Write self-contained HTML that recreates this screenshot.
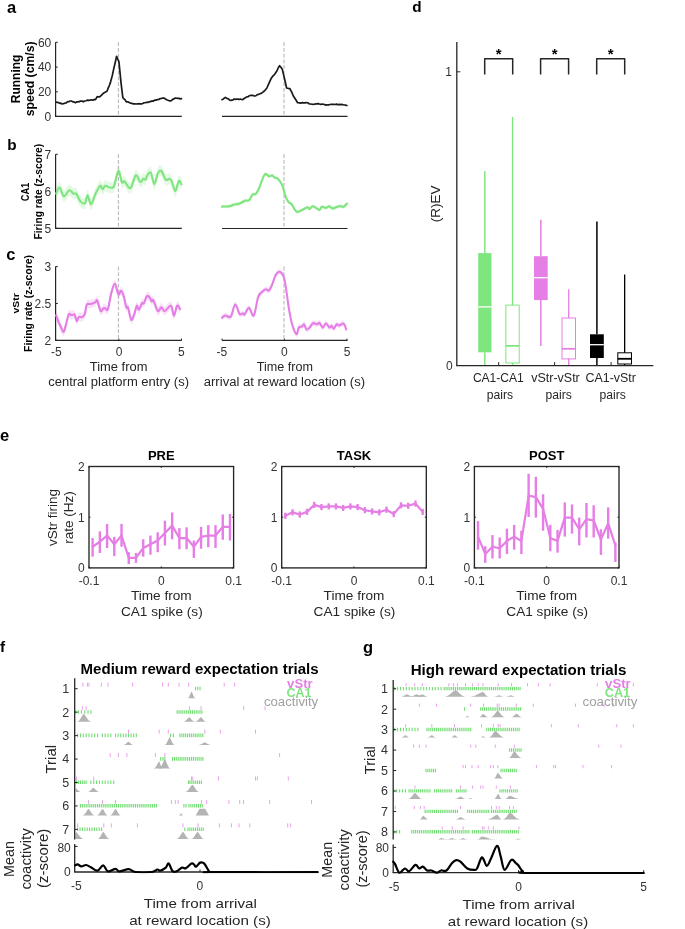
<!DOCTYPE html>
<html><head><meta charset="utf-8"><style>
html,body{margin:0;padding:0;background:#fff;}
svg{display:block;font-family:"Liberation Sans",sans-serif;will-change:transform;}
</style></head><body>
<svg width="685" height="929" viewBox="0 0 685 929">
<rect width="685" height="929" fill="#fff"/>
<text x="7.00" y="12.90" font-size="16.5" fill="#000" font-weight="bold">a</text>
<text x="7.20" y="149.50" font-size="15.3" fill="#000" font-weight="bold">b</text>
<text x="6.30" y="260.20" font-size="16.5" fill="#000" font-weight="bold">c</text>
<text x="412.30" y="11.90" font-size="15.3" fill="#000" font-weight="bold">d</text>
<text x="0.00" y="441.00" font-size="16.5" fill="#000" font-weight="bold">e</text>
<text x="0.00" y="652.00" font-size="15.3" fill="#000" font-weight="bold">f</text>
<text x="363.00" y="653.40" font-size="16.5" fill="#000" font-weight="bold">g</text>
<line x1="55.60" y1="42.30" x2="55.60" y2="116.40" stroke="#262626" stroke-width="1.2" />
<line x1="55.60" y1="116.40" x2="57.80" y2="116.40" stroke="#262626" stroke-width="1" />
<text x="51.30" y="120.70" font-size="12" fill="#333" text-anchor="end">0</text>
<line x1="55.60" y1="91.80" x2="57.80" y2="91.80" stroke="#262626" stroke-width="1" />
<text x="51.30" y="96.10" font-size="12" fill="#333" text-anchor="end">20</text>
<line x1="55.60" y1="67.10" x2="57.80" y2="67.10" stroke="#262626" stroke-width="1" />
<text x="51.30" y="71.40" font-size="12" fill="#333" text-anchor="end">40</text>
<line x1="55.60" y1="42.30" x2="57.80" y2="42.30" stroke="#262626" stroke-width="1" />
<text x="51.30" y="46.60" font-size="12" fill="#333" text-anchor="end">60</text>
<line x1="55.00" y1="116.40" x2="181.80" y2="116.40" stroke="#262626" stroke-width="1.2" />
<line x1="222.00" y1="116.40" x2="347.50" y2="116.40" stroke="#262626" stroke-width="1.2" />
<line x1="118.45" y1="42.30" x2="118.45" y2="116.20" stroke="#bdbdbd" stroke-width="1.2" stroke-dasharray="3.8,1.9"/>
<line x1="284.00" y1="42.30" x2="284.00" y2="116.50" stroke="#bdbdbd" stroke-width="1.2" stroke-dasharray="3.8,1.9"/>
<polyline points="56.10,102.20 57.32,102.38 58.54,102.57 59.76,103.36 60.98,103.18 62.20,103.90 63.47,103.63 64.73,103.18 66.00,103.00 67.37,101.94 68.73,101.67 70.10,101.00 71.40,101.01 72.70,101.79 74.00,101.89 75.30,102.70 76.62,101.91 77.95,101.78 79.27,101.72 80.60,101.00 81.90,101.06 83.20,101.80 84.67,100.98 86.13,100.78 87.60,100.10 88.92,100.44 90.23,100.04 91.55,99.81 92.87,100.26 94.18,99.36 95.50,99.70 97.20,96.60 98.60,96.92 100.00,96.60 101.28,95.31 102.55,94.08 103.82,92.96 105.10,92.20 107.00,91.30 108.13,88.23 109.27,85.78 110.40,82.60 112.30,75.50 113.73,68.81 115.17,62.77 116.60,56.30 117.75,59.03 118.90,61.50 119.95,71.94 121.00,82.60 122.80,97.40 123.97,98.91 125.13,99.94 126.30,101.80 127.70,101.82 129.10,102.38 130.50,103.22 131.90,103.41 133.30,103.90 134.70,103.73 136.10,103.98 137.50,103.86 138.90,103.72 140.30,103.90 141.54,103.86 142.79,103.48 144.03,102.77 145.27,102.77 146.51,102.42 147.76,102.44 149.00,101.80 150.40,101.67 151.80,100.93 153.20,101.21 154.60,100.10 156.00,100.10 157.40,99.61 158.80,99.49 160.20,98.53 161.60,98.41 163.00,98.00 164.40,98.19 165.80,99.35 167.20,100.04 168.60,100.47 170.00,101.00 171.32,100.59 172.65,99.33 173.98,98.93 175.30,98.00 176.54,98.22 177.78,98.35 179.02,98.38 180.26,98.87 181.50,98.70" fill="none" stroke="#1a1a1a" stroke-width="1.7" stroke-linejoin="round" stroke-linecap="round" />
<polyline points="222.00,99.60 223.10,99.27 224.20,98.11 225.30,97.40 226.68,98.32 228.05,98.55 229.43,99.91 230.80,100.50 231.90,100.13 233.00,99.94 234.10,99.00 235.34,99.38 236.59,98.98 237.83,99.15 239.07,99.49 240.31,99.00 241.56,99.48 242.80,99.60 244.12,98.52 245.44,97.70 246.76,96.86 248.08,96.72 249.40,95.70 250.72,95.37 252.04,95.47 253.36,95.60 254.68,96.03 256.00,95.70 257.32,94.66 258.64,94.33 259.96,93.76 261.28,93.41 262.60,92.40 264.03,91.22 265.47,89.79 266.90,88.00 268.37,84.53 269.83,81.39 271.30,78.20 272.77,76.24 274.23,74.88 275.70,72.70 277.00,70.78 278.30,67.72 279.60,65.70 280.95,67.26 282.30,69.40 283.73,75.36 285.17,81.56 286.60,88.00 287.70,88.22 288.80,88.55 289.90,88.70 291.00,90.82 292.10,92.92 293.20,95.70 294.67,97.96 296.13,100.25 297.60,102.70 298.84,102.76 300.09,103.11 301.33,102.87 302.57,102.71 303.81,102.81 305.06,102.86 306.30,102.70 307.77,102.73 309.23,103.93 310.70,104.00 311.96,104.25 313.21,104.34 314.47,104.27 315.73,103.90 316.99,103.91 318.24,103.64 319.50,104.00 320.80,104.34 322.10,104.05 323.40,104.27 324.70,104.62 326.00,105.10 327.32,104.73 328.64,104.82 329.96,104.49 331.28,104.37 332.60,104.44 333.92,104.32 335.24,104.49 336.56,104.11 337.88,104.81 339.20,104.40 340.48,104.69 341.77,104.45 343.05,104.73 344.33,105.00 345.62,105.19 346.90,105.50" fill="none" stroke="#1a1a1a" stroke-width="1.7" stroke-linejoin="round" stroke-linecap="round" />
<text x="20.00" y="78.90" font-size="12" fill="#000" font-weight="bold" text-anchor="middle" transform="rotate(-90 20.00 78.90)">Running</text>
<text x="34.50" y="78.80" font-size="12" fill="#000" font-weight="bold" text-anchor="middle" textLength="74.80" lengthAdjust="spacingAndGlyphs" transform="rotate(-90 34.50 78.80)">speed (cm/s)</text>
<line x1="55.60" y1="154.30" x2="55.60" y2="228.30" stroke="#262626" stroke-width="1.2" />
<line x1="55.60" y1="228.30" x2="57.80" y2="228.30" stroke="#262626" stroke-width="1" />
<text x="51.30" y="232.60" font-size="12" fill="#333" text-anchor="end">5</text>
<line x1="55.60" y1="191.30" x2="57.80" y2="191.30" stroke="#262626" stroke-width="1" />
<text x="51.30" y="195.60" font-size="12" fill="#333" text-anchor="end">6</text>
<line x1="55.60" y1="154.30" x2="57.80" y2="154.30" stroke="#262626" stroke-width="1" />
<text x="51.30" y="158.60" font-size="12" fill="#333" text-anchor="end">7</text>
<line x1="55.00" y1="228.30" x2="181.80" y2="228.30" stroke="#262626" stroke-width="1.2" />
<line x1="222.00" y1="228.50" x2="347.50" y2="228.50" stroke="#262626" stroke-width="1.2" />
<line x1="118.45" y1="154.30" x2="118.45" y2="228.40" stroke="#bdbdbd" stroke-width="1.2" stroke-dasharray="3.8,1.9"/>
<line x1="284.00" y1="154.30" x2="284.00" y2="228.60" stroke="#bdbdbd" stroke-width="1.2" stroke-dasharray="3.8,1.9"/>
<path d="M56.10,188.20 C56.68,187.18 58.30,181.67 59.60,182.10 C60.90,182.53 62.30,190.37 63.90,190.80 C65.50,191.23 67.58,185.13 69.20,184.70 C70.82,184.27 72.43,187.62 73.60,188.20 C74.77,188.78 75.03,186.88 76.20,188.20 C77.37,189.52 79.13,194.50 80.60,196.10 C82.07,197.70 83.83,198.83 85.00,197.80 C86.17,196.77 86.58,189.75 87.60,189.90 C88.62,190.05 89.78,198.98 91.10,198.70 C92.42,198.42 93.98,191.27 95.50,188.20 C97.02,185.13 99.02,181.03 100.20,180.30 C101.38,179.57 101.78,183.80 102.60,183.80 C103.42,183.80 104.25,180.73 105.10,180.30 C105.95,179.87 106.82,180.90 107.70,181.20 C108.58,181.50 109.35,182.18 110.40,182.10 C111.45,182.02 112.67,183.48 114.00,180.70 C115.33,177.92 117.08,166.05 118.40,165.40 C119.72,164.75 120.88,175.05 121.90,176.80 C122.92,178.55 123.33,175.02 124.50,175.90 C125.67,176.78 127.73,181.22 128.90,182.10 C130.07,182.98 130.33,183.25 131.50,181.20 C132.67,179.15 134.43,170.58 135.90,169.80 C137.37,169.02 139.05,175.92 140.30,176.50 C141.55,177.08 142.53,173.68 143.40,173.30 C144.27,172.92 144.85,174.78 145.50,174.20 C146.15,173.62 146.42,170.97 147.30,169.80 C148.18,168.63 149.63,165.73 150.80,167.20 C151.97,168.67 153.13,178.47 154.30,178.60 C155.47,178.73 156.63,170.20 157.80,168.00 C158.97,165.80 159.98,164.37 161.30,165.40 C162.62,166.43 164.38,172.88 165.70,174.20 C167.02,175.52 168.18,173.02 169.20,173.30 C170.22,173.58 170.78,173.85 171.80,175.90 C172.82,177.95 174.13,185.68 175.30,185.60 C176.47,185.52 177.77,176.52 178.80,175.40 C179.83,174.28 181.05,178.32 181.50,178.90 L181.50,189.90 C181.05,189.32 179.83,185.28 178.80,186.40 C177.77,187.52 176.47,196.52 175.30,196.60 C174.13,196.68 172.82,188.95 171.80,186.90 C170.78,184.85 170.22,184.58 169.20,184.30 C168.18,184.02 167.02,186.52 165.70,185.20 C164.38,183.88 162.62,177.43 161.30,176.40 C159.98,175.37 158.97,176.80 157.80,179.00 C156.63,181.20 155.47,189.73 154.30,189.60 C153.13,189.47 151.97,179.67 150.80,178.20 C149.63,176.73 148.18,179.63 147.30,180.80 C146.42,181.97 146.15,184.62 145.50,185.20 C144.85,185.78 144.27,183.92 143.40,184.30 C142.53,184.68 141.55,188.08 140.30,187.50 C139.05,186.92 137.37,180.02 135.90,180.80 C134.43,181.58 132.67,190.15 131.50,192.20 C130.33,194.25 130.07,193.98 128.90,193.10 C127.73,192.22 125.67,187.78 124.50,186.90 C123.33,186.02 122.92,189.55 121.90,187.80 C120.88,186.05 119.72,175.75 118.40,176.40 C117.08,177.05 115.33,188.92 114.00,191.70 C112.67,194.48 111.45,193.02 110.40,193.10 C109.35,193.18 108.58,192.50 107.70,192.20 C106.82,191.90 105.95,190.87 105.10,191.30 C104.25,191.73 103.42,194.80 102.60,194.80 C101.78,194.80 101.38,190.57 100.20,191.30 C99.02,192.03 97.02,196.13 95.50,199.20 C93.98,202.27 92.42,209.42 91.10,209.70 C89.78,209.98 88.62,201.05 87.60,200.90 C86.58,200.75 86.17,207.77 85.00,208.80 C83.83,209.83 82.07,208.70 80.60,207.10 C79.13,205.50 77.37,200.52 76.20,199.20 C75.03,197.88 74.77,199.78 73.60,199.20 C72.43,198.62 70.82,195.27 69.20,195.70 C67.58,196.13 65.50,202.23 63.90,201.80 C62.30,201.37 60.90,193.53 59.60,193.10 C58.30,192.67 56.68,198.18 56.10,199.20 Z" fill="#7fe57f" fill-opacity="0.22" stroke="none"/>
<path d="M56.10,193.70 C56.68,192.68 58.30,187.17 59.60,187.60 C60.90,188.03 62.30,195.87 63.90,196.30 C65.50,196.73 67.58,190.63 69.20,190.20 C70.82,189.77 72.43,193.12 73.60,193.70 C74.77,194.28 75.03,192.38 76.20,193.70 C77.37,195.02 79.13,200.00 80.60,201.60 C82.07,203.20 83.83,204.33 85.00,203.30 C86.17,202.27 86.58,195.25 87.60,195.40 C88.62,195.55 89.78,204.48 91.10,204.20 C92.42,203.92 93.98,196.77 95.50,193.70 C97.02,190.63 99.02,186.53 100.20,185.80 C101.38,185.07 101.78,189.30 102.60,189.30 C103.42,189.30 104.25,186.23 105.10,185.80 C105.95,185.37 106.82,186.40 107.70,186.70 C108.58,187.00 109.35,187.68 110.40,187.60 C111.45,187.52 112.67,188.98 114.00,186.20 C115.33,183.42 117.08,171.55 118.40,170.90 C119.72,170.25 120.88,180.55 121.90,182.30 C122.92,184.05 123.33,180.52 124.50,181.40 C125.67,182.28 127.73,186.72 128.90,187.60 C130.07,188.48 130.33,188.75 131.50,186.70 C132.67,184.65 134.43,176.08 135.90,175.30 C137.37,174.52 139.05,181.42 140.30,182.00 C141.55,182.58 142.53,179.18 143.40,178.80 C144.27,178.42 144.85,180.28 145.50,179.70 C146.15,179.12 146.42,176.47 147.30,175.30 C148.18,174.13 149.63,171.23 150.80,172.70 C151.97,174.17 153.13,183.97 154.30,184.10 C155.47,184.23 156.63,175.70 157.80,173.50 C158.97,171.30 159.98,169.87 161.30,170.90 C162.62,171.93 164.38,178.38 165.70,179.70 C167.02,181.02 168.18,178.52 169.20,178.80 C170.22,179.08 170.78,179.35 171.80,181.40 C172.82,183.45 174.13,191.18 175.30,191.10 C176.47,191.02 177.77,182.02 178.80,180.90 C179.83,179.78 181.05,183.82 181.50,184.40" fill="none" stroke="#7fe57f" stroke-width="2.1" stroke-linejoin="round" stroke-linecap="round" />
<path d="M222.00,204.80 C223.28,204.73 227.68,204.73 229.70,204.40 C231.72,204.07 232.45,203.25 234.10,202.80 C235.75,202.35 237.78,202.35 239.60,201.70 C241.42,201.05 243.43,199.43 245.00,198.90 C246.57,198.37 247.72,199.52 249.00,198.50 C250.28,197.48 251.53,193.90 252.70,192.80 C253.87,191.70 254.90,193.07 256.00,191.90 C257.10,190.73 258.20,188.28 259.30,185.80 C260.40,183.32 261.62,179.27 262.60,177.00 C263.58,174.73 264.12,172.63 265.20,172.20 C266.28,171.77 267.90,174.15 269.10,174.40 C270.30,174.65 271.48,173.45 272.40,173.70 C273.32,173.95 273.68,175.35 274.60,175.90 C275.52,176.45 276.62,175.72 277.90,177.00 C279.18,178.28 281.03,180.68 282.30,183.60 C283.57,186.52 284.42,191.67 285.50,194.50 C286.58,197.33 287.80,199.32 288.80,200.60 C289.80,201.88 290.22,200.67 291.50,202.20 C292.78,203.73 294.75,208.78 296.50,209.80 C298.25,210.82 300.18,209.02 302.00,208.30 C303.82,207.58 306.13,205.68 307.40,205.50 C308.67,205.32 308.68,207.38 309.60,207.20 C310.52,207.02 311.25,204.25 312.90,204.40 C314.55,204.55 318.03,208.00 319.50,208.10 C320.97,208.20 320.62,205.33 321.70,205.00 C322.78,204.67 324.73,206.20 326.00,206.10 C327.27,206.00 328.20,204.32 329.30,204.40 C330.40,204.48 330.95,206.60 332.60,206.60 C334.25,206.60 337.37,204.67 339.20,204.40 C341.03,204.13 342.32,205.45 343.60,205.00 C344.88,204.55 346.35,202.25 346.90,201.70 L346.90,205.30 C346.35,205.85 344.88,208.15 343.60,208.60 C342.32,209.05 341.03,207.73 339.20,208.00 C337.37,208.27 334.25,210.20 332.60,210.20 C330.95,210.20 330.40,208.08 329.30,208.00 C328.20,207.92 327.27,209.60 326.00,209.70 C324.73,209.80 322.78,208.27 321.70,208.60 C320.62,208.93 320.97,211.80 319.50,211.70 C318.03,211.60 314.55,208.15 312.90,208.00 C311.25,207.85 310.52,210.62 309.60,210.80 C308.68,210.98 308.67,208.92 307.40,209.10 C306.13,209.28 303.82,211.18 302.00,211.90 C300.18,212.62 298.25,214.42 296.50,213.40 C294.75,212.38 292.78,207.33 291.50,205.80 C290.22,204.27 289.80,205.48 288.80,204.20 C287.80,202.92 286.58,200.93 285.50,198.10 C284.42,195.27 283.57,190.12 282.30,187.20 C281.03,184.28 279.18,181.88 277.90,180.60 C276.62,179.32 275.52,180.05 274.60,179.50 C273.68,178.95 273.32,177.55 272.40,177.30 C271.48,177.05 270.30,178.25 269.10,178.00 C267.90,177.75 266.28,175.37 265.20,175.80 C264.12,176.23 263.58,178.33 262.60,180.60 C261.62,182.87 260.40,186.92 259.30,189.40 C258.20,191.88 257.10,194.33 256.00,195.50 C254.90,196.67 253.87,195.30 252.70,196.40 C251.53,197.50 250.28,201.08 249.00,202.10 C247.72,203.12 246.57,201.97 245.00,202.50 C243.43,203.03 241.42,204.65 239.60,205.30 C237.78,205.95 235.75,205.95 234.10,206.40 C232.45,206.85 231.72,207.67 229.70,208.00 C227.68,208.33 223.28,208.33 222.00,208.40 Z" fill="#7fe57f" fill-opacity="0.25" stroke="none"/>
<path d="M222.00,206.60 C223.28,206.53 227.68,206.53 229.70,206.20 C231.72,205.87 232.45,205.05 234.10,204.60 C235.75,204.15 237.78,204.15 239.60,203.50 C241.42,202.85 243.43,201.23 245.00,200.70 C246.57,200.17 247.72,201.32 249.00,200.30 C250.28,199.28 251.53,195.70 252.70,194.60 C253.87,193.50 254.90,194.87 256.00,193.70 C257.10,192.53 258.20,190.08 259.30,187.60 C260.40,185.12 261.62,181.07 262.60,178.80 C263.58,176.53 264.12,174.43 265.20,174.00 C266.28,173.57 267.90,175.95 269.10,176.20 C270.30,176.45 271.48,175.25 272.40,175.50 C273.32,175.75 273.68,177.15 274.60,177.70 C275.52,178.25 276.62,177.52 277.90,178.80 C279.18,180.08 281.03,182.48 282.30,185.40 C283.57,188.32 284.42,193.47 285.50,196.30 C286.58,199.13 287.80,201.12 288.80,202.40 C289.80,203.68 290.22,202.47 291.50,204.00 C292.78,205.53 294.75,210.58 296.50,211.60 C298.25,212.62 300.18,210.82 302.00,210.10 C303.82,209.38 306.13,207.48 307.40,207.30 C308.67,207.12 308.68,209.18 309.60,209.00 C310.52,208.82 311.25,206.05 312.90,206.20 C314.55,206.35 318.03,209.80 319.50,209.90 C320.97,210.00 320.62,207.13 321.70,206.80 C322.78,206.47 324.73,208.00 326.00,207.90 C327.27,207.80 328.20,206.12 329.30,206.20 C330.40,206.28 330.95,208.40 332.60,208.40 C334.25,208.40 337.37,206.47 339.20,206.20 C341.03,205.93 342.32,207.25 343.60,206.80 C344.88,206.35 346.35,204.05 346.90,203.50" fill="none" stroke="#7fe57f" stroke-width="2.1" stroke-linejoin="round" stroke-linecap="round" />
<text x="28.60" y="192.00" font-size="10.5" fill="#000" font-weight="bold" text-anchor="middle" textLength="18.50" lengthAdjust="spacingAndGlyphs" transform="rotate(-90 28.60 192.00)">CA1</text>
<text x="41.60" y="191.70" font-size="10.5" fill="#000" font-weight="bold" text-anchor="middle" textLength="95.60" lengthAdjust="spacingAndGlyphs" transform="rotate(-90 41.60 191.70)">Firing rate (z-score)</text>
<line x1="55.60" y1="266.60" x2="55.60" y2="340.40" stroke="#262626" stroke-width="1.2" />
<line x1="55.60" y1="340.40" x2="57.80" y2="340.40" stroke="#262626" stroke-width="1" />
<text x="51.30" y="344.70" font-size="12" fill="#333" text-anchor="end">2</text>
<line x1="55.60" y1="303.50" x2="57.80" y2="303.50" stroke="#262626" stroke-width="1" />
<text x="51.30" y="307.80" font-size="12" fill="#333" text-anchor="end">2.5</text>
<line x1="55.60" y1="266.60" x2="57.80" y2="266.60" stroke="#262626" stroke-width="1" />
<text x="51.30" y="270.90" font-size="12" fill="#333" text-anchor="end">3</text>
<line x1="55.00" y1="340.40" x2="181.80" y2="340.40" stroke="#262626" stroke-width="1.2" />
<line x1="222.00" y1="340.40" x2="347.50" y2="340.40" stroke="#262626" stroke-width="1.2" />
<line x1="55.60" y1="340.30" x2="55.60" y2="338.60" stroke="#262626" stroke-width="1" />
<line x1="118.80" y1="340.30" x2="118.80" y2="338.60" stroke="#262626" stroke-width="1" />
<line x1="181.50" y1="340.30" x2="181.50" y2="338.60" stroke="#262626" stroke-width="1" />
<line x1="222.00" y1="340.30" x2="222.00" y2="338.60" stroke="#262626" stroke-width="1" />
<line x1="284.40" y1="340.30" x2="284.40" y2="338.60" stroke="#262626" stroke-width="1" />
<line x1="347.00" y1="340.30" x2="347.00" y2="338.60" stroke="#262626" stroke-width="1" />
<line x1="118.45" y1="266.60" x2="118.45" y2="340.30" stroke="#bdbdbd" stroke-width="1.2" stroke-dasharray="3.8,1.9"/>
<line x1="284.00" y1="266.60" x2="284.00" y2="340.30" stroke="#bdbdbd" stroke-width="1.2" stroke-dasharray="3.8,1.9"/>
<path d="M56.10,311.00 C56.53,312.17 57.98,316.25 58.70,318.00 C59.42,319.75 59.62,319.88 60.40,321.50 C61.18,323.12 62.52,327.70 63.40,327.70 C64.28,327.70 64.82,324.42 65.70,321.50 C66.58,318.58 67.68,311.95 68.70,310.20 C69.72,308.45 70.83,311.00 71.80,311.00 C72.77,311.00 73.68,309.27 74.50,310.20 C75.32,311.13 75.98,316.17 76.70,316.60 C77.42,317.03 77.87,313.43 78.80,312.80 C79.73,312.17 81.27,313.38 82.30,312.80 C83.33,312.22 84.27,311.35 85.00,309.30 C85.73,307.25 85.68,302.12 86.70,300.50 C87.72,298.88 89.63,300.03 91.10,299.60 C92.57,299.17 94.48,298.48 95.50,297.90 C96.52,297.32 96.33,294.63 97.20,296.10 C98.07,297.57 99.67,305.38 100.70,306.70 C101.73,308.02 102.63,304.45 103.40,304.00 C104.17,303.55 104.55,303.85 105.30,304.00 C106.05,304.15 106.88,307.52 107.90,304.90 C108.92,302.28 110.23,292.53 111.40,288.30 C112.57,284.07 113.73,279.22 114.90,279.50 C116.07,279.78 117.38,288.83 118.40,290.00 C119.42,291.17 120.12,286.20 121.00,286.50 C121.88,286.80 122.82,289.03 123.70,291.80 C124.58,294.57 125.58,301.22 126.30,303.10 C127.02,304.98 127.18,301.05 128.00,303.10 C128.82,305.15 130.17,314.22 131.20,315.40 C132.23,316.58 133.27,312.53 134.20,310.20 C135.13,307.87 136.02,302.20 136.80,301.40 C137.58,300.60 138.03,305.83 138.90,305.40 C139.77,304.97 141.18,299.85 142.00,298.80 C142.82,297.75 142.97,300.27 143.80,299.10 C144.63,297.93 145.98,292.73 147.00,291.80 C148.02,290.87 149.12,292.63 149.90,293.50 C150.68,294.37 151.12,296.57 151.70,297.00 C152.28,297.43 152.38,294.48 153.40,296.10 C154.42,297.72 156.48,305.53 157.80,306.70 C159.12,307.87 160.13,303.10 161.30,303.10 C162.47,303.10 163.18,306.98 164.80,306.70 C166.42,306.42 169.48,300.62 171.00,301.40 C172.52,302.18 172.88,311.40 173.90,311.40 C174.92,311.40 176.05,302.48 177.10,301.40 C178.15,300.32 179.68,304.32 180.20,304.90 L180.20,313.50 C179.68,312.92 178.15,308.92 177.10,310.00 C176.05,311.08 174.92,320.00 173.90,320.00 C172.88,320.00 172.52,310.78 171.00,310.00 C169.48,309.22 166.42,315.02 164.80,315.30 C163.18,315.58 162.47,311.70 161.30,311.70 C160.13,311.70 159.12,316.47 157.80,315.30 C156.48,314.13 154.42,306.32 153.40,304.70 C152.38,303.08 152.28,306.03 151.70,305.60 C151.12,305.17 150.68,302.97 149.90,302.10 C149.12,301.23 148.02,299.47 147.00,300.40 C145.98,301.33 144.63,306.53 143.80,307.70 C142.97,308.87 142.82,306.35 142.00,307.40 C141.18,308.45 139.77,313.57 138.90,314.00 C138.03,314.43 137.58,309.20 136.80,310.00 C136.02,310.80 135.13,316.47 134.20,318.80 C133.27,321.13 132.23,325.18 131.20,324.00 C130.17,322.82 128.82,313.75 128.00,311.70 C127.18,309.65 127.02,313.58 126.30,311.70 C125.58,309.82 124.58,303.17 123.70,300.40 C122.82,297.63 121.88,295.40 121.00,295.10 C120.12,294.80 119.42,299.77 118.40,298.60 C117.38,297.43 116.07,288.38 114.90,288.10 C113.73,287.82 112.57,292.67 111.40,296.90 C110.23,301.13 108.92,310.88 107.90,313.50 C106.88,316.12 106.05,312.75 105.30,312.60 C104.55,312.45 104.17,312.15 103.40,312.60 C102.63,313.05 101.73,316.62 100.70,315.30 C99.67,313.98 98.07,306.17 97.20,304.70 C96.33,303.23 96.52,305.92 95.50,306.50 C94.48,307.08 92.57,307.77 91.10,308.20 C89.63,308.63 87.72,307.48 86.70,309.10 C85.68,310.72 85.73,315.85 85.00,317.90 C84.27,319.95 83.33,320.82 82.30,321.40 C81.27,321.98 79.73,320.77 78.80,321.40 C77.87,322.03 77.42,325.63 76.70,325.20 C75.98,324.77 75.32,319.73 74.50,318.80 C73.68,317.87 72.77,319.60 71.80,319.60 C70.83,319.60 69.72,317.05 68.70,318.80 C67.68,320.55 66.58,327.18 65.70,330.10 C64.82,333.02 64.28,336.30 63.40,336.30 C62.52,336.30 61.18,331.72 60.40,330.10 C59.62,328.48 59.42,328.35 58.70,326.60 C57.98,324.85 56.53,320.77 56.10,319.60 Z" fill="#e57ee5" fill-opacity="0.22" stroke="none"/>
<path d="M56.10,315.30 C56.53,316.47 57.98,320.55 58.70,322.30 C59.42,324.05 59.62,324.18 60.40,325.80 C61.18,327.42 62.52,332.00 63.40,332.00 C64.28,332.00 64.82,328.72 65.70,325.80 C66.58,322.88 67.68,316.25 68.70,314.50 C69.72,312.75 70.83,315.30 71.80,315.30 C72.77,315.30 73.68,313.57 74.50,314.50 C75.32,315.43 75.98,320.47 76.70,320.90 C77.42,321.33 77.87,317.73 78.80,317.10 C79.73,316.47 81.27,317.68 82.30,317.10 C83.33,316.52 84.27,315.65 85.00,313.60 C85.73,311.55 85.68,306.42 86.70,304.80 C87.72,303.18 89.63,304.33 91.10,303.90 C92.57,303.47 94.48,302.78 95.50,302.20 C96.52,301.62 96.33,298.93 97.20,300.40 C98.07,301.87 99.67,309.68 100.70,311.00 C101.73,312.32 102.63,308.75 103.40,308.30 C104.17,307.85 104.55,308.15 105.30,308.30 C106.05,308.45 106.88,311.82 107.90,309.20 C108.92,306.58 110.23,296.83 111.40,292.60 C112.57,288.37 113.73,283.52 114.90,283.80 C116.07,284.08 117.38,293.13 118.40,294.30 C119.42,295.47 120.12,290.50 121.00,290.80 C121.88,291.10 122.82,293.33 123.70,296.10 C124.58,298.87 125.58,305.52 126.30,307.40 C127.02,309.28 127.18,305.35 128.00,307.40 C128.82,309.45 130.17,318.52 131.20,319.70 C132.23,320.88 133.27,316.83 134.20,314.50 C135.13,312.17 136.02,306.50 136.80,305.70 C137.58,304.90 138.03,310.13 138.90,309.70 C139.77,309.27 141.18,304.15 142.00,303.10 C142.82,302.05 142.97,304.57 143.80,303.40 C144.63,302.23 145.98,297.03 147.00,296.10 C148.02,295.17 149.12,296.93 149.90,297.80 C150.68,298.67 151.12,300.87 151.70,301.30 C152.28,301.73 152.38,298.78 153.40,300.40 C154.42,302.02 156.48,309.83 157.80,311.00 C159.12,312.17 160.13,307.40 161.30,307.40 C162.47,307.40 163.18,311.28 164.80,311.00 C166.42,310.72 169.48,304.92 171.00,305.70 C172.52,306.48 172.88,315.70 173.90,315.70 C174.92,315.70 176.05,306.78 177.10,305.70 C178.15,304.62 179.68,308.62 180.20,309.20" fill="none" stroke="#e57ee5" stroke-width="2.1" stroke-linejoin="round" stroke-linecap="round" />
<path d="M222.00,314.90 C222.55,314.53 223.83,312.88 225.30,312.70 C226.77,312.52 229.15,315.62 230.80,313.80 C232.45,311.98 233.73,302.23 235.20,301.80 C236.67,301.37 238.33,309.73 239.60,311.20 C240.87,312.67 241.97,310.53 242.80,310.60 C243.63,310.67 243.57,312.52 244.60,311.60 C245.63,310.68 247.47,304.92 249.00,305.10 C250.53,305.28 252.27,314.53 253.80,312.70 C255.33,310.87 256.73,298.10 258.20,294.10 C259.67,290.10 261.33,289.97 262.60,288.70 C263.87,287.43 264.72,286.68 265.80,286.50 C266.88,286.32 268.00,288.52 269.10,287.60 C270.20,286.68 271.30,283.57 272.40,281.00 C273.50,278.43 274.50,274.22 275.70,272.20 C276.90,270.18 278.32,268.72 279.60,268.90 C280.88,269.08 282.42,271.10 283.40,273.30 C284.38,275.50 284.60,276.80 285.50,282.10 C286.40,287.40 287.70,298.53 288.80,305.10 C289.90,311.67 290.82,317.12 292.10,321.50 C293.38,325.88 295.40,330.85 296.50,331.40 C297.60,331.95 297.78,326.08 298.70,324.80 C299.62,323.52 301.08,324.25 302.00,323.70 C302.92,323.15 303.48,321.03 304.20,321.50 C304.92,321.97 305.40,325.95 306.30,326.50 C307.20,327.05 308.50,325.82 309.60,324.80 C310.70,323.78 311.62,320.95 312.90,320.40 C314.18,319.85 316.20,321.57 317.30,321.50 C318.40,321.43 318.58,319.45 319.50,320.00 C320.42,320.55 321.72,324.73 322.80,324.80 C323.88,324.87 324.92,320.40 326.00,320.40 C327.08,320.40 328.38,324.37 329.30,324.80 C330.22,325.23 330.77,322.82 331.50,323.00 C332.23,323.18 332.85,326.15 333.70,325.90 C334.55,325.65 335.68,322.05 336.60,321.50 C337.52,320.95 338.03,322.72 339.20,322.60 C340.37,322.48 342.43,320.15 343.60,320.80 C344.77,321.45 345.77,325.55 346.20,326.50 L346.20,332.10 C345.77,331.15 344.77,327.05 343.60,326.40 C342.43,325.75 340.37,328.08 339.20,328.20 C338.03,328.32 337.52,326.55 336.60,327.10 C335.68,327.65 334.55,331.25 333.70,331.50 C332.85,331.75 332.23,328.78 331.50,328.60 C330.77,328.42 330.22,330.83 329.30,330.40 C328.38,329.97 327.08,326.00 326.00,326.00 C324.92,326.00 323.88,330.47 322.80,330.40 C321.72,330.33 320.42,326.15 319.50,325.60 C318.58,325.05 318.40,327.03 317.30,327.10 C316.20,327.17 314.18,325.45 312.90,326.00 C311.62,326.55 310.70,329.38 309.60,330.40 C308.50,331.42 307.20,332.65 306.30,332.10 C305.40,331.55 304.92,327.57 304.20,327.10 C303.48,326.63 302.92,328.75 302.00,329.30 C301.08,329.85 299.62,329.12 298.70,330.40 C297.78,331.68 297.60,337.55 296.50,337.00 C295.40,336.45 293.38,331.48 292.10,327.10 C290.82,322.72 289.90,317.27 288.80,310.70 C287.70,304.13 286.40,293.00 285.50,287.70 C284.60,282.40 284.38,281.10 283.40,278.90 C282.42,276.70 280.88,274.68 279.60,274.50 C278.32,274.32 276.90,275.78 275.70,277.80 C274.50,279.82 273.50,284.03 272.40,286.60 C271.30,289.17 270.20,292.28 269.10,293.20 C268.00,294.12 266.88,291.92 265.80,292.10 C264.72,292.28 263.87,293.03 262.60,294.30 C261.33,295.57 259.67,295.70 258.20,299.70 C256.73,303.70 255.33,316.47 253.80,318.30 C252.27,320.13 250.53,310.88 249.00,310.70 C247.47,310.52 245.63,316.28 244.60,317.20 C243.57,318.12 243.63,316.27 242.80,316.20 C241.97,316.13 240.87,318.27 239.60,316.80 C238.33,315.33 236.67,306.97 235.20,307.40 C233.73,307.83 232.45,317.58 230.80,319.40 C229.15,321.22 226.77,318.12 225.30,318.30 C223.83,318.48 222.55,320.13 222.00,320.50 Z" fill="#e57ee5" fill-opacity="0.22" stroke="none"/>
<path d="M222.00,317.70 C222.55,317.33 223.83,315.68 225.30,315.50 C226.77,315.32 229.15,318.42 230.80,316.60 C232.45,314.78 233.73,305.03 235.20,304.60 C236.67,304.17 238.33,312.53 239.60,314.00 C240.87,315.47 241.97,313.33 242.80,313.40 C243.63,313.47 243.57,315.32 244.60,314.40 C245.63,313.48 247.47,307.72 249.00,307.90 C250.53,308.08 252.27,317.33 253.80,315.50 C255.33,313.67 256.73,300.90 258.20,296.90 C259.67,292.90 261.33,292.77 262.60,291.50 C263.87,290.23 264.72,289.48 265.80,289.30 C266.88,289.12 268.00,291.32 269.10,290.40 C270.20,289.48 271.30,286.37 272.40,283.80 C273.50,281.23 274.50,277.02 275.70,275.00 C276.90,272.98 278.32,271.52 279.60,271.70 C280.88,271.88 282.42,273.90 283.40,276.10 C284.38,278.30 284.60,279.60 285.50,284.90 C286.40,290.20 287.70,301.33 288.80,307.90 C289.90,314.47 290.82,319.92 292.10,324.30 C293.38,328.68 295.40,333.65 296.50,334.20 C297.60,334.75 297.78,328.88 298.70,327.60 C299.62,326.32 301.08,327.05 302.00,326.50 C302.92,325.95 303.48,323.83 304.20,324.30 C304.92,324.77 305.40,328.75 306.30,329.30 C307.20,329.85 308.50,328.62 309.60,327.60 C310.70,326.58 311.62,323.75 312.90,323.20 C314.18,322.65 316.20,324.37 317.30,324.30 C318.40,324.23 318.58,322.25 319.50,322.80 C320.42,323.35 321.72,327.53 322.80,327.60 C323.88,327.67 324.92,323.20 326.00,323.20 C327.08,323.20 328.38,327.17 329.30,327.60 C330.22,328.03 330.77,325.62 331.50,325.80 C332.23,325.98 332.85,328.95 333.70,328.70 C334.55,328.45 335.68,324.85 336.60,324.30 C337.52,323.75 338.03,325.52 339.20,325.40 C340.37,325.28 342.43,322.95 343.60,323.60 C344.77,324.25 345.77,328.35 346.20,329.30" fill="none" stroke="#e57ee5" stroke-width="2.1" stroke-linejoin="round" stroke-linecap="round" />
<text x="18.90" y="303.30" font-size="9.6" fill="#000" font-weight="bold" text-anchor="middle" textLength="20.20" lengthAdjust="spacingAndGlyphs" transform="rotate(-90 18.90 303.30)">vStr</text>
<text x="31.80" y="303.50" font-size="10.5" fill="#000" font-weight="bold" text-anchor="middle" textLength="96.80" lengthAdjust="spacingAndGlyphs" transform="rotate(-90 31.80 303.50)">Firing rate (z-score)</text>
<text x="56.30" y="356.00" font-size="12" fill="#333" text-anchor="middle">-5</text>
<text x="119.00" y="356.00" font-size="12" fill="#333" text-anchor="middle">0</text>
<text x="181.30" y="356.00" font-size="12" fill="#333" text-anchor="middle">5</text>
<text x="221.80" y="356.00" font-size="12" fill="#333" text-anchor="middle">-5</text>
<text x="284.40" y="356.00" font-size="12" fill="#333" text-anchor="middle">0</text>
<text x="347.00" y="356.00" font-size="12" fill="#333" text-anchor="middle">5</text>
<text x="118.60" y="370.70" font-size="12" fill="#262626" text-anchor="middle" textLength="57.70" lengthAdjust="spacingAndGlyphs">Time from</text>
<text x="118.60" y="386.00" font-size="12" fill="#262626" text-anchor="middle" textLength="140.80" lengthAdjust="spacingAndGlyphs">central platform entry (s)</text>
<text x="284.80" y="370.70" font-size="12" fill="#262626" text-anchor="middle" textLength="56.30" lengthAdjust="spacingAndGlyphs">Time from</text>
<text x="284.40" y="386.00" font-size="12" fill="#262626" text-anchor="middle" textLength="161.30" lengthAdjust="spacingAndGlyphs">arrival at reward location (s)</text>
<line x1="456.80" y1="42.00" x2="456.80" y2="365.60" stroke="#262626" stroke-width="1.3" />
<line x1="456.20" y1="365.60" x2="653.40" y2="365.60" stroke="#262626" stroke-width="1.3" />
<line x1="456.80" y1="71.80" x2="460.30" y2="71.80" stroke="#262626" stroke-width="1" />
<text x="452.00" y="76.00" font-size="12" fill="#333" text-anchor="end">1</text>
<text x="452.60" y="369.80" font-size="12" fill="#333" text-anchor="end">0</text>
<line x1="498.70" y1="365.60" x2="498.70" y2="362.10" stroke="#262626" stroke-width="1" />
<line x1="554.60" y1="365.60" x2="554.60" y2="362.10" stroke="#262626" stroke-width="1" />
<line x1="611.10" y1="365.60" x2="611.10" y2="362.10" stroke="#262626" stroke-width="1" />
<text x="440.30" y="203.80" font-size="13.5" fill="#262626" text-anchor="middle" transform="rotate(-90 440.30 203.80)">(R)EV</text>
<line x1="484.85" y1="171.00" x2="484.85" y2="253.10" stroke="#7fe57f" stroke-width="1.5" />
<line x1="484.85" y1="352.30" x2="484.85" y2="365.10" stroke="#7fe57f" stroke-width="1.5" />
<rect x="478.20" y="253.10" width="13.30" height="99.20" fill="#7fe57f"/>
<line x1="478.20" y1="306.90" x2="491.50" y2="306.90" stroke="#fff" stroke-width="1.3" />
<line x1="512.55" y1="117.00" x2="512.55" y2="305.10" stroke="#7fe57f" stroke-width="1.3" />
<line x1="512.55" y1="363.00" x2="512.55" y2="365.10" stroke="#7fe57f" stroke-width="1.3" />
<rect x="505.90" y="305.10" width="13.30" height="57.90" fill="none" stroke="#7fe57f" stroke-width="1"/>
<line x1="505.90" y1="345.90" x2="519.20" y2="345.90" stroke="#7fe57f" stroke-width="1.8" />
<line x1="540.85" y1="219.80" x2="540.85" y2="256.20" stroke="#e57ee5" stroke-width="1.5" />
<line x1="540.85" y1="300.10" x2="540.85" y2="346.10" stroke="#e57ee5" stroke-width="1.5" />
<rect x="534.00" y="256.20" width="13.70" height="43.90" fill="#e57ee5"/>
<line x1="534.00" y1="277.70" x2="547.70" y2="277.70" stroke="#fff" stroke-width="1.3" />
<line x1="568.75" y1="289.30" x2="568.75" y2="318.00" stroke="#e57ee5" stroke-width="1.3" />
<line x1="568.75" y1="358.90" x2="568.75" y2="365.10" stroke="#e57ee5" stroke-width="1.3" />
<rect x="562.00" y="318.00" width="13.50" height="40.90" fill="none" stroke="#e57ee5" stroke-width="1"/>
<line x1="562.00" y1="348.80" x2="575.50" y2="348.80" stroke="#e57ee5" stroke-width="1.8" />
<line x1="596.90" y1="221.50" x2="596.90" y2="334.30" stroke="#000" stroke-width="1.5" />
<line x1="596.90" y1="358.00" x2="596.90" y2="365.10" stroke="#000" stroke-width="1.5" />
<rect x="590.00" y="334.30" width="13.80" height="23.70" fill="#000"/>
<line x1="590.00" y1="344.70" x2="603.80" y2="344.70" stroke="#fff" stroke-width="1.3" />
<line x1="624.65" y1="274.60" x2="624.65" y2="352.80" stroke="#000" stroke-width="1.3" />
<line x1="624.65" y1="364.00" x2="624.65" y2="365.10" stroke="#000" stroke-width="1.3" />
<rect x="617.80" y="352.80" width="13.70" height="11.20" fill="none" stroke="#000" stroke-width="1"/>
<line x1="617.80" y1="358.80" x2="631.50" y2="358.80" stroke="#000" stroke-width="1.8" />
<path d="M484.70,74.5 V58.8 H512.70 V74.5" fill="none" stroke="#262626" stroke-width="1.5" stroke-linejoin="round"/>
<text x="498.70" y="59.30" font-size="15" fill="#000" font-weight="bold" text-anchor="middle">*</text>
<path d="M540.60,74.5 V58.8 H568.60 V74.5" fill="none" stroke="#262626" stroke-width="1.5" stroke-linejoin="round"/>
<text x="554.60" y="59.30" font-size="15" fill="#000" font-weight="bold" text-anchor="middle">*</text>
<path d="M596.70,74.5 V58.8 H624.70 V74.5" fill="none" stroke="#262626" stroke-width="1.5" stroke-linejoin="round"/>
<text x="610.70" y="59.30" font-size="15" fill="#000" font-weight="bold" text-anchor="middle">*</text>
<text x="498.30" y="382.00" font-size="12" fill="#262626" text-anchor="middle" textLength="50.80" lengthAdjust="spacingAndGlyphs">CA1-CA1</text>
<text x="499.90" y="399.20" font-size="12" fill="#262626" text-anchor="middle" textLength="26.30" lengthAdjust="spacingAndGlyphs">pairs</text>
<text x="555.50" y="382.00" font-size="12" fill="#262626" text-anchor="middle" textLength="48.60" lengthAdjust="spacingAndGlyphs">vStr-vStr</text>
<text x="558.70" y="399.20" font-size="12" fill="#262626" text-anchor="middle" textLength="26.30" lengthAdjust="spacingAndGlyphs">pairs</text>
<text x="610.70" y="382.00" font-size="12" fill="#262626" text-anchor="middle" textLength="50.40" lengthAdjust="spacingAndGlyphs">CA1-vStr</text>
<text x="612.70" y="399.20" font-size="12" fill="#262626" text-anchor="middle" textLength="26.30" lengthAdjust="spacingAndGlyphs">pairs</text>
<rect x="89.00" y="466.50" width="144.60" height="101.40" fill="none" stroke="#262626" stroke-width="1.35"/>
<line x1="89.00" y1="567.90" x2="90.50" y2="567.90" stroke="#262626" stroke-width="1" />
<line x1="233.60" y1="567.90" x2="232.10" y2="567.90" stroke="#262626" stroke-width="1" />
<text x="84.70" y="572.30" font-size="12" fill="#333" text-anchor="end">0</text>
<line x1="89.00" y1="517.20" x2="90.50" y2="517.20" stroke="#262626" stroke-width="1" />
<line x1="233.60" y1="517.20" x2="232.10" y2="517.20" stroke="#262626" stroke-width="1" />
<text x="84.70" y="521.60" font-size="12" fill="#333" text-anchor="end">1</text>
<line x1="89.00" y1="466.50" x2="90.50" y2="466.50" stroke="#262626" stroke-width="1" />
<line x1="233.60" y1="466.50" x2="232.10" y2="466.50" stroke="#262626" stroke-width="1" />
<text x="84.70" y="470.90" font-size="12" fill="#333" text-anchor="end">2</text>
<line x1="89.00" y1="567.90" x2="89.00" y2="566.40" stroke="#262626" stroke-width="1" />
<line x1="89.00" y1="466.50" x2="89.00" y2="468.00" stroke="#262626" stroke-width="1" />
<text x="89.00" y="584.60" font-size="12" fill="#333" text-anchor="middle">-0.1</text>
<line x1="161.30" y1="567.90" x2="161.30" y2="566.40" stroke="#262626" stroke-width="1" />
<line x1="161.30" y1="466.50" x2="161.30" y2="468.00" stroke="#262626" stroke-width="1" />
<text x="161.30" y="584.60" font-size="12" fill="#333" text-anchor="middle">0</text>
<line x1="233.60" y1="567.90" x2="233.60" y2="566.40" stroke="#262626" stroke-width="1" />
<line x1="233.60" y1="466.50" x2="233.60" y2="468.00" stroke="#262626" stroke-width="1" />
<text x="233.60" y="584.60" font-size="12" fill="#333" text-anchor="middle">0.1</text>
<text x="161.30" y="460.30" font-size="13" fill="#000" font-weight="bold" text-anchor="middle">PRE</text>
<text x="161.30" y="599.90" font-size="13" fill="#262626" text-anchor="middle" textLength="60.80" lengthAdjust="spacingAndGlyphs">Time from</text>
<text x="161.80" y="615.50" font-size="13" fill="#262626" text-anchor="middle" textLength="81.80" lengthAdjust="spacingAndGlyphs">CA1 spike (s)</text>
<line x1="92.61" y1="538.04" x2="92.61" y2="556.65" stroke="#e57ee5" stroke-width="2.4" />
<line x1="99.84" y1="531.34" x2="99.84" y2="552.93" stroke="#e57ee5" stroke-width="2.4" />
<line x1="107.08" y1="523.89" x2="107.08" y2="547.97" stroke="#e57ee5" stroke-width="2.4" />
<line x1="114.30" y1="536.80" x2="114.30" y2="556.16" stroke="#e57ee5" stroke-width="2.4" />
<line x1="121.53" y1="523.89" x2="121.53" y2="546.73" stroke="#e57ee5" stroke-width="2.4" />
<line x1="128.76" y1="552.19" x2="128.76" y2="564.10" stroke="#e57ee5" stroke-width="2.4" />
<line x1="136.00" y1="552.93" x2="136.00" y2="562.86" stroke="#e57ee5" stroke-width="2.4" />
<line x1="143.23" y1="539.28" x2="143.23" y2="556.65" stroke="#e57ee5" stroke-width="2.4" />
<line x1="150.45" y1="535.56" x2="150.45" y2="554.67" stroke="#e57ee5" stroke-width="2.4" />
<line x1="157.69" y1="532.33" x2="157.69" y2="552.19" stroke="#e57ee5" stroke-width="2.4" />
<line x1="164.92" y1="520.67" x2="164.92" y2="545.49" stroke="#e57ee5" stroke-width="2.4" />
<line x1="172.14" y1="512.47" x2="172.14" y2="539.28" stroke="#e57ee5" stroke-width="2.4" />
<line x1="179.38" y1="528.11" x2="179.38" y2="549.21" stroke="#e57ee5" stroke-width="2.4" />
<line x1="186.61" y1="527.37" x2="186.61" y2="549.21" stroke="#e57ee5" stroke-width="2.4" />
<line x1="193.84" y1="540.52" x2="193.84" y2="557.90" stroke="#e57ee5" stroke-width="2.4" />
<line x1="201.06" y1="526.87" x2="201.06" y2="548.71" stroke="#e57ee5" stroke-width="2.4" />
<line x1="208.29" y1="525.13" x2="208.29" y2="547.22" stroke="#e57ee5" stroke-width="2.4" />
<line x1="215.52" y1="525.13" x2="215.52" y2="547.97" stroke="#e57ee5" stroke-width="2.4" />
<line x1="222.75" y1="514.46" x2="222.75" y2="539.78" stroke="#e57ee5" stroke-width="2.4" />
<line x1="229.98" y1="513.96" x2="229.98" y2="540.52" stroke="#e57ee5" stroke-width="2.4" />
<polyline points="92.61,546.73 99.84,541.76 107.08,535.56 114.30,544.24 121.53,535.56 128.76,557.90 136.00,557.90 143.23,547.97 150.45,544.24 157.69,540.52 164.92,533.08 172.14,525.63 179.38,538.04 186.61,538.04 193.84,546.73 201.06,536.80 208.29,535.56 215.52,535.56 222.75,526.87 229.98,526.87" fill="none" stroke="#e57ee5" stroke-width="2.2" stroke-linejoin="round" stroke-linecap="round" />
<rect x="281.70" y="466.50" width="144.60" height="101.40" fill="none" stroke="#262626" stroke-width="1.35"/>
<line x1="281.70" y1="567.90" x2="283.20" y2="567.90" stroke="#262626" stroke-width="1" />
<line x1="426.30" y1="567.90" x2="424.80" y2="567.90" stroke="#262626" stroke-width="1" />
<text x="277.40" y="572.30" font-size="12" fill="#333" text-anchor="end">0</text>
<line x1="281.70" y1="517.20" x2="283.20" y2="517.20" stroke="#262626" stroke-width="1" />
<line x1="426.30" y1="517.20" x2="424.80" y2="517.20" stroke="#262626" stroke-width="1" />
<text x="277.40" y="521.60" font-size="12" fill="#333" text-anchor="end">1</text>
<line x1="281.70" y1="466.50" x2="283.20" y2="466.50" stroke="#262626" stroke-width="1" />
<line x1="426.30" y1="466.50" x2="424.80" y2="466.50" stroke="#262626" stroke-width="1" />
<text x="277.40" y="470.90" font-size="12" fill="#333" text-anchor="end">2</text>
<line x1="281.70" y1="567.90" x2="281.70" y2="566.40" stroke="#262626" stroke-width="1" />
<line x1="281.70" y1="466.50" x2="281.70" y2="468.00" stroke="#262626" stroke-width="1" />
<text x="281.70" y="584.60" font-size="12" fill="#333" text-anchor="middle">-0.1</text>
<line x1="354.00" y1="567.90" x2="354.00" y2="566.40" stroke="#262626" stroke-width="1" />
<line x1="354.00" y1="466.50" x2="354.00" y2="468.00" stroke="#262626" stroke-width="1" />
<text x="354.00" y="584.60" font-size="12" fill="#333" text-anchor="middle">0</text>
<line x1="426.30" y1="567.90" x2="426.30" y2="566.40" stroke="#262626" stroke-width="1" />
<line x1="426.30" y1="466.50" x2="426.30" y2="468.00" stroke="#262626" stroke-width="1" />
<text x="426.30" y="584.60" font-size="12" fill="#333" text-anchor="middle">0.1</text>
<text x="354.00" y="460.30" font-size="13" fill="#000" font-weight="bold" text-anchor="middle">TASK</text>
<text x="354.00" y="599.90" font-size="13" fill="#262626" text-anchor="middle" textLength="60.80" lengthAdjust="spacingAndGlyphs">Time from</text>
<text x="354.50" y="615.50" font-size="13" fill="#262626" text-anchor="middle" textLength="81.80" lengthAdjust="spacingAndGlyphs">CA1 spike (s)</text>
<line x1="285.31" y1="512.77" x2="285.31" y2="518.90" stroke="#e57ee5" stroke-width="2.4" />
<line x1="292.54" y1="509.27" x2="292.54" y2="515.40" stroke="#e57ee5" stroke-width="2.4" />
<line x1="299.77" y1="511.46" x2="299.77" y2="517.59" stroke="#e57ee5" stroke-width="2.4" />
<line x1="307.00" y1="508.83" x2="307.00" y2="514.96" stroke="#e57ee5" stroke-width="2.4" />
<line x1="314.24" y1="501.82" x2="314.24" y2="507.95" stroke="#e57ee5" stroke-width="2.4" />
<line x1="321.46" y1="504.01" x2="321.46" y2="510.14" stroke="#e57ee5" stroke-width="2.4" />
<line x1="328.69" y1="503.36" x2="328.69" y2="509.49" stroke="#e57ee5" stroke-width="2.4" />
<line x1="335.93" y1="503.36" x2="335.93" y2="509.49" stroke="#e57ee5" stroke-width="2.4" />
<line x1="343.15" y1="504.89" x2="343.15" y2="511.02" stroke="#e57ee5" stroke-width="2.4" />
<line x1="350.38" y1="503.36" x2="350.38" y2="509.49" stroke="#e57ee5" stroke-width="2.4" />
<line x1="357.62" y1="504.01" x2="357.62" y2="510.14" stroke="#e57ee5" stroke-width="2.4" />
<line x1="364.84" y1="507.08" x2="364.84" y2="513.21" stroke="#e57ee5" stroke-width="2.4" />
<line x1="372.07" y1="508.39" x2="372.07" y2="514.52" stroke="#e57ee5" stroke-width="2.4" />
<line x1="379.31" y1="509.27" x2="379.31" y2="515.40" stroke="#e57ee5" stroke-width="2.4" />
<line x1="386.53" y1="506.64" x2="386.53" y2="512.77" stroke="#e57ee5" stroke-width="2.4" />
<line x1="393.76" y1="511.02" x2="393.76" y2="517.15" stroke="#e57ee5" stroke-width="2.4" />
<line x1="401.00" y1="502.26" x2="401.00" y2="508.39" stroke="#e57ee5" stroke-width="2.4" />
<line x1="408.22" y1="502.70" x2="408.22" y2="508.83" stroke="#e57ee5" stroke-width="2.4" />
<line x1="415.45" y1="500.51" x2="415.45" y2="506.64" stroke="#e57ee5" stroke-width="2.4" />
<line x1="422.68" y1="508.83" x2="422.68" y2="514.96" stroke="#e57ee5" stroke-width="2.4" />
<polyline points="285.31,515.84 292.54,512.33 299.77,514.52 307.00,511.90 314.24,504.89 321.46,507.08 328.69,506.42 335.93,506.42 343.15,507.95 350.38,506.42 357.62,507.08 364.84,510.14 372.07,511.46 379.31,512.33 386.53,509.71 393.76,514.09 401.00,505.33 408.22,505.77 415.45,503.58 422.68,511.90" fill="none" stroke="#e57ee5" stroke-width="2.2" stroke-linejoin="round" stroke-linecap="round" />
<rect x="474.40" y="466.50" width="144.60" height="101.40" fill="none" stroke="#262626" stroke-width="1.35"/>
<line x1="474.40" y1="567.90" x2="475.90" y2="567.90" stroke="#262626" stroke-width="1" />
<line x1="619.00" y1="567.90" x2="617.50" y2="567.90" stroke="#262626" stroke-width="1" />
<text x="470.10" y="572.30" font-size="12" fill="#333" text-anchor="end">0</text>
<line x1="474.40" y1="517.20" x2="475.90" y2="517.20" stroke="#262626" stroke-width="1" />
<line x1="619.00" y1="517.20" x2="617.50" y2="517.20" stroke="#262626" stroke-width="1" />
<text x="470.10" y="521.60" font-size="12" fill="#333" text-anchor="end">1</text>
<line x1="474.40" y1="466.50" x2="475.90" y2="466.50" stroke="#262626" stroke-width="1" />
<line x1="619.00" y1="466.50" x2="617.50" y2="466.50" stroke="#262626" stroke-width="1" />
<text x="470.10" y="470.90" font-size="12" fill="#333" text-anchor="end">2</text>
<line x1="474.40" y1="567.90" x2="474.40" y2="566.40" stroke="#262626" stroke-width="1" />
<line x1="474.40" y1="466.50" x2="474.40" y2="468.00" stroke="#262626" stroke-width="1" />
<text x="474.40" y="584.60" font-size="12" fill="#333" text-anchor="middle">-0.1</text>
<line x1="546.70" y1="567.90" x2="546.70" y2="566.40" stroke="#262626" stroke-width="1" />
<line x1="546.70" y1="466.50" x2="546.70" y2="468.00" stroke="#262626" stroke-width="1" />
<text x="546.70" y="584.60" font-size="12" fill="#333" text-anchor="middle">0</text>
<line x1="619.00" y1="567.90" x2="619.00" y2="566.40" stroke="#262626" stroke-width="1" />
<line x1="619.00" y1="466.50" x2="619.00" y2="468.00" stroke="#262626" stroke-width="1" />
<text x="619.00" y="584.60" font-size="12" fill="#333" text-anchor="middle">0.1</text>
<text x="546.70" y="460.30" font-size="13" fill="#000" font-weight="bold" text-anchor="middle">POST</text>
<text x="546.70" y="599.90" font-size="13" fill="#262626" text-anchor="middle" textLength="60.80" lengthAdjust="spacingAndGlyphs">Time from</text>
<text x="547.20" y="615.50" font-size="13" fill="#262626" text-anchor="middle" textLength="81.80" lengthAdjust="spacingAndGlyphs">CA1 spike (s)</text>
<line x1="478.01" y1="521.09" x2="478.01" y2="549.71" stroke="#e57ee5" stroke-width="2.4" />
<line x1="485.25" y1="546.20" x2="485.25" y2="562.85" stroke="#e57ee5" stroke-width="2.4" />
<line x1="492.47" y1="535.11" x2="492.47" y2="558.47" stroke="#e57ee5" stroke-width="2.4" />
<line x1="499.70" y1="537.45" x2="499.70" y2="558.47" stroke="#e57ee5" stroke-width="2.4" />
<line x1="506.93" y1="528.69" x2="506.93" y2="554.09" stroke="#e57ee5" stroke-width="2.4" />
<line x1="514.16" y1="524.89" x2="514.16" y2="549.71" stroke="#e57ee5" stroke-width="2.4" />
<line x1="521.39" y1="530.73" x2="521.39" y2="554.09" stroke="#e57ee5" stroke-width="2.4" />
<line x1="528.62" y1="473.80" x2="528.62" y2="517.01" stroke="#e57ee5" stroke-width="2.4" />
<line x1="535.86" y1="476.72" x2="535.86" y2="517.59" stroke="#e57ee5" stroke-width="2.4" />
<line x1="543.08" y1="494.23" x2="543.08" y2="530.73" stroke="#e57ee5" stroke-width="2.4" />
<line x1="550.31" y1="524.89" x2="550.31" y2="551.17" stroke="#e57ee5" stroke-width="2.4" />
<line x1="557.54" y1="529.85" x2="557.54" y2="552.63" stroke="#e57ee5" stroke-width="2.4" />
<line x1="564.77" y1="502.41" x2="564.77" y2="536.57" stroke="#e57ee5" stroke-width="2.4" />
<line x1="572.00" y1="504.45" x2="572.00" y2="533.65" stroke="#e57ee5" stroke-width="2.4" />
<line x1="579.24" y1="517.59" x2="579.24" y2="545.33" stroke="#e57ee5" stroke-width="2.4" />
<line x1="586.46" y1="502.99" x2="586.46" y2="537.45" stroke="#e57ee5" stroke-width="2.4" />
<line x1="593.69" y1="505.33" x2="593.69" y2="537.45" stroke="#e57ee5" stroke-width="2.4" />
<line x1="600.92" y1="529.27" x2="600.92" y2="554.96" stroke="#e57ee5" stroke-width="2.4" />
<line x1="608.15" y1="507.37" x2="608.15" y2="538.61" stroke="#e57ee5" stroke-width="2.4" />
<line x1="615.38" y1="542.41" x2="615.38" y2="561.97" stroke="#e57ee5" stroke-width="2.4" />
<polyline points="478.01,536.57 485.25,554.09 492.47,546.79 499.70,548.25 506.93,540.95 514.16,536.57 521.39,540.95 528.62,495.69 535.86,497.15 543.08,508.83 550.31,538.03 557.54,540.95 564.77,517.59 572.00,517.59 579.24,529.27 586.46,519.05 593.69,520.51 600.92,539.49 608.15,523.43 615.38,545.33" fill="none" stroke="#e57ee5" stroke-width="2.2" stroke-linejoin="round" stroke-linecap="round" />
<text x="57.10" y="517.40" font-size="13.5" fill="#262626" text-anchor="middle" transform="rotate(-90 57.10 517.40)">vStr firing</text>
<text x="73.10" y="517.50" font-size="13.5" fill="#262626" text-anchor="middle" transform="rotate(-90 73.10 517.50)">rate (Hz)</text>
<clipPath id="fclip"><rect x="75.5" y="676" width="260" height="163.1"/></clipPath>
<g clip-path="url(#fclip)">
<line x1="82.90" y1="682.70" x2="82.90" y2="686.70" stroke="#eb9ceb" stroke-width="0.95" />
<line x1="87.50" y1="682.70" x2="87.50" y2="686.70" stroke="#eb9ceb" stroke-width="0.95" />
<line x1="89.00" y1="682.70" x2="89.00" y2="686.70" stroke="#eb9ceb" stroke-width="0.95" />
<line x1="101.30" y1="682.70" x2="101.30" y2="686.70" stroke="#eb9ceb" stroke-width="0.95" />
<line x1="108.00" y1="682.70" x2="108.00" y2="686.70" stroke="#eb9ceb" stroke-width="0.95" />
<line x1="132.60" y1="682.70" x2="132.60" y2="686.70" stroke="#eb9ceb" stroke-width="0.95" />
<line x1="162.60" y1="682.70" x2="162.60" y2="686.70" stroke="#eb9ceb" stroke-width="0.95" />
<line x1="168.30" y1="682.70" x2="168.30" y2="686.70" stroke="#eb9ceb" stroke-width="0.95" />
<line x1="179.10" y1="682.70" x2="179.10" y2="686.70" stroke="#eb9ceb" stroke-width="0.95" />
<line x1="188.60" y1="682.70" x2="188.60" y2="686.70" stroke="#eb9ceb" stroke-width="0.95" />
<line x1="224.20" y1="682.70" x2="224.20" y2="686.70" stroke="#eb9ceb" stroke-width="0.95" />
<line x1="234.60" y1="682.70" x2="234.60" y2="686.70" stroke="#eb9ceb" stroke-width="0.95" />
<line x1="195.50" y1="686.70" x2="195.50" y2="690.30" stroke="#6fdc6f" stroke-width="1.1" />
<line x1="197.70" y1="686.70" x2="197.70" y2="690.30" stroke="#6fdc6f" stroke-width="1.1" />
<line x1="200.00" y1="686.70" x2="200.00" y2="690.30" stroke="#6fdc6f" stroke-width="1.1" />
<path d="M187.70,698.20 C189.41,698.20 190.74,691.70 191.50,691.70 C192.32,691.70 193.75,698.20 195.60,698.20 Z" fill="#b4b4b4"/>
<line x1="82.30" y1="706.15" x2="82.30" y2="710.15" stroke="#eb9ceb" stroke-width="0.95" />
<line x1="86.10" y1="706.15" x2="86.10" y2="710.15" stroke="#eb9ceb" stroke-width="0.95" />
<line x1="189.60" y1="706.15" x2="189.60" y2="710.15" stroke="#eb9ceb" stroke-width="0.95" />
<line x1="201.00" y1="706.15" x2="201.00" y2="710.15" stroke="#eb9ceb" stroke-width="0.95" />
<line x1="243.70" y1="706.15" x2="243.70" y2="710.15" stroke="#eb9ceb" stroke-width="0.95" />
<line x1="265.00" y1="706.15" x2="265.00" y2="710.15" stroke="#eb9ceb" stroke-width="0.95" />
<line x1="75.70" y1="710.15" x2="75.70" y2="713.75" stroke="#6fdc6f" stroke-width="1.1" />
<line x1="78.50" y1="710.15" x2="78.50" y2="713.75" stroke="#6fdc6f" stroke-width="1.1" />
<line x1="81.40" y1="710.15" x2="81.40" y2="713.75" stroke="#6fdc6f" stroke-width="1.1" />
<line x1="84.80" y1="710.15" x2="84.80" y2="713.75" stroke="#6fdc6f" stroke-width="1.1" />
<line x1="88.00" y1="710.15" x2="88.00" y2="713.75" stroke="#6fdc6f" stroke-width="1.1" />
<line x1="90.90" y1="710.15" x2="90.90" y2="713.75" stroke="#6fdc6f" stroke-width="1.1" />
<line x1="177.20" y1="710.15" x2="177.20" y2="713.75" stroke="#6fdc6f" stroke-width="1.1" />
<line x1="179.10" y1="710.15" x2="179.10" y2="713.75" stroke="#6fdc6f" stroke-width="1.1" />
<line x1="181.00" y1="710.15" x2="181.00" y2="713.75" stroke="#6fdc6f" stroke-width="1.1" />
<line x1="182.90" y1="710.15" x2="182.90" y2="713.75" stroke="#6fdc6f" stroke-width="1.1" />
<line x1="184.80" y1="710.15" x2="184.80" y2="713.75" stroke="#6fdc6f" stroke-width="1.1" />
<line x1="186.70" y1="710.15" x2="186.70" y2="713.75" stroke="#6fdc6f" stroke-width="1.1" />
<line x1="188.60" y1="710.15" x2="188.60" y2="713.75" stroke="#6fdc6f" stroke-width="1.1" />
<line x1="190.50" y1="710.15" x2="190.50" y2="713.75" stroke="#6fdc6f" stroke-width="1.1" />
<line x1="192.40" y1="710.15" x2="192.40" y2="713.75" stroke="#6fdc6f" stroke-width="1.1" />
<line x1="194.30" y1="710.15" x2="194.30" y2="713.75" stroke="#6fdc6f" stroke-width="1.1" />
<line x1="196.20" y1="710.15" x2="196.20" y2="713.75" stroke="#6fdc6f" stroke-width="1.1" />
<line x1="198.10" y1="710.15" x2="198.10" y2="713.75" stroke="#6fdc6f" stroke-width="1.1" />
<line x1="200.00" y1="710.15" x2="200.00" y2="713.75" stroke="#6fdc6f" stroke-width="1.1" />
<line x1="201.90" y1="710.15" x2="201.90" y2="713.75" stroke="#6fdc6f" stroke-width="1.1" />
<path d="M77.20,721.65 C80.12,721.65 82.40,714.05 83.70,714.05 C85.22,714.05 87.88,721.65 91.30,721.65 Z" fill="#b4b4b4"/>
<path d="M183.50,721.65 C186.06,721.65 188.06,717.25 189.20,717.25 C190.36,717.25 192.39,721.65 195.00,721.65 Z" fill="#b4b4b4"/>
<path d="M195.00,721.65 C197.70,721.65 199.80,717.25 201.00,717.25 C202.02,717.25 203.81,721.65 206.10,721.65 Z" fill="#b4b4b4"/>
<line x1="128.50" y1="729.60" x2="128.50" y2="733.60" stroke="#eb9ceb" stroke-width="0.95" />
<line x1="159.20" y1="729.60" x2="159.20" y2="733.60" stroke="#eb9ceb" stroke-width="0.95" />
<line x1="168.30" y1="729.60" x2="168.30" y2="733.60" stroke="#eb9ceb" stroke-width="0.95" />
<line x1="204.80" y1="729.60" x2="204.80" y2="733.60" stroke="#eb9ceb" stroke-width="0.95" />
<line x1="220.40" y1="729.60" x2="220.40" y2="733.60" stroke="#eb9ceb" stroke-width="0.95" />
<line x1="255.50" y1="729.60" x2="255.50" y2="733.60" stroke="#eb9ceb" stroke-width="0.95" />
<line x1="77.60" y1="733.60" x2="77.60" y2="737.20" stroke="#6fdc6f" stroke-width="1.1" />
<line x1="80.45" y1="733.60" x2="80.45" y2="737.20" stroke="#6fdc6f" stroke-width="1.1" />
<line x1="83.30" y1="733.60" x2="83.30" y2="737.20" stroke="#6fdc6f" stroke-width="1.1" />
<line x1="86.15" y1="733.60" x2="86.15" y2="737.20" stroke="#6fdc6f" stroke-width="1.1" />
<line x1="89.00" y1="733.60" x2="89.00" y2="737.20" stroke="#6fdc6f" stroke-width="1.1" />
<line x1="91.85" y1="733.60" x2="91.85" y2="737.20" stroke="#6fdc6f" stroke-width="1.1" />
<line x1="94.70" y1="733.60" x2="94.70" y2="737.20" stroke="#6fdc6f" stroke-width="1.1" />
<line x1="97.55" y1="733.60" x2="97.55" y2="737.20" stroke="#6fdc6f" stroke-width="1.1" />
<line x1="102.30" y1="733.60" x2="102.30" y2="737.20" stroke="#6fdc6f" stroke-width="1.1" />
<line x1="105.15" y1="733.60" x2="105.15" y2="737.20" stroke="#6fdc6f" stroke-width="1.1" />
<line x1="108.00" y1="733.60" x2="108.00" y2="737.20" stroke="#6fdc6f" stroke-width="1.1" />
<line x1="110.85" y1="733.60" x2="110.85" y2="737.20" stroke="#6fdc6f" stroke-width="1.1" />
<line x1="115.50" y1="733.60" x2="115.50" y2="737.20" stroke="#6fdc6f" stroke-width="1.1" />
<line x1="118.10" y1="733.60" x2="118.10" y2="737.20" stroke="#6fdc6f" stroke-width="1.1" />
<line x1="120.70" y1="733.60" x2="120.70" y2="737.20" stroke="#6fdc6f" stroke-width="1.1" />
<line x1="123.30" y1="733.60" x2="123.30" y2="737.20" stroke="#6fdc6f" stroke-width="1.1" />
<line x1="125.90" y1="733.60" x2="125.90" y2="737.20" stroke="#6fdc6f" stroke-width="1.1" />
<line x1="128.50" y1="733.60" x2="128.50" y2="737.20" stroke="#6fdc6f" stroke-width="1.1" />
<line x1="131.10" y1="733.60" x2="131.10" y2="737.20" stroke="#6fdc6f" stroke-width="1.1" />
<line x1="133.70" y1="733.60" x2="133.70" y2="737.20" stroke="#6fdc6f" stroke-width="1.1" />
<line x1="136.30" y1="733.60" x2="136.30" y2="737.20" stroke="#6fdc6f" stroke-width="1.1" />
<line x1="170.60" y1="733.60" x2="170.60" y2="737.20" stroke="#6fdc6f" stroke-width="1.1" />
<line x1="173.40" y1="733.60" x2="173.40" y2="737.20" stroke="#6fdc6f" stroke-width="1.1" />
<line x1="180.00" y1="733.60" x2="180.00" y2="737.20" stroke="#6fdc6f" stroke-width="1.1" />
<line x1="181.90" y1="733.60" x2="181.90" y2="737.20" stroke="#6fdc6f" stroke-width="1.1" />
<line x1="183.80" y1="733.60" x2="183.80" y2="737.20" stroke="#6fdc6f" stroke-width="1.1" />
<line x1="185.70" y1="733.60" x2="185.70" y2="737.20" stroke="#6fdc6f" stroke-width="1.1" />
<line x1="187.60" y1="733.60" x2="187.60" y2="737.20" stroke="#6fdc6f" stroke-width="1.1" />
<line x1="189.50" y1="733.60" x2="189.50" y2="737.20" stroke="#6fdc6f" stroke-width="1.1" />
<line x1="191.40" y1="733.60" x2="191.40" y2="737.20" stroke="#6fdc6f" stroke-width="1.1" />
<line x1="193.30" y1="733.60" x2="193.30" y2="737.20" stroke="#6fdc6f" stroke-width="1.1" />
<line x1="195.20" y1="733.60" x2="195.20" y2="737.20" stroke="#6fdc6f" stroke-width="1.1" />
<line x1="197.10" y1="733.60" x2="197.10" y2="737.20" stroke="#6fdc6f" stroke-width="1.1" />
<line x1="199.00" y1="733.60" x2="199.00" y2="737.20" stroke="#6fdc6f" stroke-width="1.1" />
<line x1="200.90" y1="733.60" x2="200.90" y2="737.20" stroke="#6fdc6f" stroke-width="1.1" />
<line x1="202.80" y1="733.60" x2="202.80" y2="737.20" stroke="#6fdc6f" stroke-width="1.1" />
<path d="M123.10,745.10 C125.53,745.10 127.42,741.70 128.50,741.70 C129.52,741.70 131.31,745.10 133.60,745.10 Z" fill="#b4b4b4"/>
<path d="M164.50,745.10 C166.79,745.10 168.58,737.50 169.60,737.50 C170.64,737.50 172.46,745.10 174.80,745.10 Z" fill="#b4b4b4"/>
<path d="M198.50,745.10 C201.34,745.10 203.54,742.30 204.80,742.30 C206.02,742.30 208.16,745.10 210.90,745.10 Z" fill="#b4b4b4"/>
<line x1="110.20" y1="753.05" x2="110.20" y2="757.05" stroke="#eb9ceb" stroke-width="0.95" />
<line x1="118.40" y1="753.05" x2="118.40" y2="757.05" stroke="#eb9ceb" stroke-width="0.95" />
<line x1="126.90" y1="753.05" x2="126.90" y2="757.05" stroke="#eb9ceb" stroke-width="0.95" />
<line x1="155.40" y1="753.05" x2="155.40" y2="757.05" stroke="#eb9ceb" stroke-width="0.95" />
<line x1="164.90" y1="753.05" x2="164.90" y2="757.05" stroke="#eb9ceb" stroke-width="0.95" />
<line x1="279.60" y1="753.05" x2="279.60" y2="757.05" stroke="#eb9ceb" stroke-width="0.95" />
<line x1="160.70" y1="757.05" x2="160.70" y2="760.65" stroke="#6fdc6f" stroke-width="1.1" />
<line x1="163.00" y1="757.05" x2="163.00" y2="760.65" stroke="#6fdc6f" stroke-width="1.1" />
<line x1="164.90" y1="757.05" x2="164.90" y2="760.65" stroke="#6fdc6f" stroke-width="1.1" />
<line x1="172.50" y1="757.05" x2="172.50" y2="760.65" stroke="#6fdc6f" stroke-width="1.1" />
<line x1="174.40" y1="757.05" x2="174.40" y2="760.65" stroke="#6fdc6f" stroke-width="1.1" />
<line x1="176.30" y1="757.05" x2="176.30" y2="760.65" stroke="#6fdc6f" stroke-width="1.1" />
<line x1="178.20" y1="757.05" x2="178.20" y2="760.65" stroke="#6fdc6f" stroke-width="1.1" />
<line x1="180.10" y1="757.05" x2="180.10" y2="760.65" stroke="#6fdc6f" stroke-width="1.1" />
<line x1="182.00" y1="757.05" x2="182.00" y2="760.65" stroke="#6fdc6f" stroke-width="1.1" />
<line x1="183.90" y1="757.05" x2="183.90" y2="760.65" stroke="#6fdc6f" stroke-width="1.1" />
<line x1="185.80" y1="757.05" x2="185.80" y2="760.65" stroke="#6fdc6f" stroke-width="1.1" />
<line x1="187.70" y1="757.05" x2="187.70" y2="760.65" stroke="#6fdc6f" stroke-width="1.1" />
<line x1="189.60" y1="757.05" x2="189.60" y2="760.65" stroke="#6fdc6f" stroke-width="1.1" />
<line x1="191.50" y1="757.05" x2="191.50" y2="760.65" stroke="#6fdc6f" stroke-width="1.1" />
<line x1="193.40" y1="757.05" x2="193.40" y2="760.65" stroke="#6fdc6f" stroke-width="1.1" />
<line x1="195.30" y1="757.05" x2="195.30" y2="760.65" stroke="#6fdc6f" stroke-width="1.1" />
<line x1="197.20" y1="757.05" x2="197.20" y2="760.65" stroke="#6fdc6f" stroke-width="1.1" />
<line x1="199.10" y1="757.05" x2="199.10" y2="760.65" stroke="#6fdc6f" stroke-width="1.1" />
<line x1="201.00" y1="757.05" x2="201.00" y2="760.65" stroke="#6fdc6f" stroke-width="1.1" />
<line x1="202.90" y1="757.05" x2="202.90" y2="760.65" stroke="#6fdc6f" stroke-width="1.1" />
<path d="M153.50,768.55 C156.06,768.55 158.06,761.55 159.20,761.55 C159.86,761.55 161.01,768.55 162.50,768.55 Z" fill="#b4b4b4"/>
<path d="M158.50,768.55 C161.38,768.55 163.62,759.65 164.90,759.65 C166.04,759.65 168.03,768.55 170.60,768.55 Z" fill="#b4b4b4"/>
<line x1="76.60" y1="776.50" x2="76.60" y2="780.50" stroke="#eb9ceb" stroke-width="0.95" />
<line x1="93.70" y1="776.50" x2="93.70" y2="780.50" stroke="#eb9ceb" stroke-width="0.95" />
<line x1="191.50" y1="776.50" x2="191.50" y2="780.50" stroke="#eb9ceb" stroke-width="0.95" />
<line x1="192.80" y1="776.50" x2="192.80" y2="780.50" stroke="#eb9ceb" stroke-width="0.95" />
<line x1="218.50" y1="776.50" x2="218.50" y2="780.50" stroke="#eb9ceb" stroke-width="0.95" />
<line x1="255.50" y1="776.50" x2="255.50" y2="780.50" stroke="#eb9ceb" stroke-width="0.95" />
<line x1="257.40" y1="776.50" x2="257.40" y2="780.50" stroke="#eb9ceb" stroke-width="0.95" />
<line x1="288.30" y1="776.50" x2="288.30" y2="780.50" stroke="#eb9ceb" stroke-width="0.95" />
<line x1="74.70" y1="780.50" x2="74.70" y2="784.10" stroke="#6fdc6f" stroke-width="1.1" />
<line x1="76.60" y1="780.50" x2="76.60" y2="784.10" stroke="#6fdc6f" stroke-width="1.1" />
<line x1="78.50" y1="780.50" x2="78.50" y2="784.10" stroke="#6fdc6f" stroke-width="1.1" />
<line x1="80.40" y1="780.50" x2="80.40" y2="784.10" stroke="#6fdc6f" stroke-width="1.1" />
<line x1="82.30" y1="780.50" x2="82.30" y2="784.10" stroke="#6fdc6f" stroke-width="1.1" />
<line x1="84.20" y1="780.50" x2="84.20" y2="784.10" stroke="#6fdc6f" stroke-width="1.1" />
<line x1="86.10" y1="780.50" x2="86.10" y2="784.10" stroke="#6fdc6f" stroke-width="1.1" />
<line x1="90.90" y1="780.50" x2="90.90" y2="784.10" stroke="#6fdc6f" stroke-width="1.1" />
<line x1="93.75" y1="780.50" x2="93.75" y2="784.10" stroke="#6fdc6f" stroke-width="1.1" />
<line x1="96.60" y1="780.50" x2="96.60" y2="784.10" stroke="#6fdc6f" stroke-width="1.1" />
<line x1="99.45" y1="780.50" x2="99.45" y2="784.10" stroke="#6fdc6f" stroke-width="1.1" />
<line x1="102.30" y1="780.50" x2="102.30" y2="784.10" stroke="#6fdc6f" stroke-width="1.1" />
<line x1="105.15" y1="780.50" x2="105.15" y2="784.10" stroke="#6fdc6f" stroke-width="1.1" />
<line x1="108.00" y1="780.50" x2="108.00" y2="784.10" stroke="#6fdc6f" stroke-width="1.1" />
<line x1="110.85" y1="780.50" x2="110.85" y2="784.10" stroke="#6fdc6f" stroke-width="1.1" />
<line x1="113.70" y1="780.50" x2="113.70" y2="784.10" stroke="#6fdc6f" stroke-width="1.1" />
<line x1="188.60" y1="780.50" x2="188.60" y2="784.10" stroke="#6fdc6f" stroke-width="1.1" />
<line x1="190.00" y1="780.50" x2="190.00" y2="784.10" stroke="#6fdc6f" stroke-width="1.1" />
<line x1="191.90" y1="780.50" x2="191.90" y2="784.10" stroke="#6fdc6f" stroke-width="1.1" />
<line x1="193.80" y1="780.50" x2="193.80" y2="784.10" stroke="#6fdc6f" stroke-width="1.1" />
<line x1="195.70" y1="780.50" x2="195.70" y2="784.10" stroke="#6fdc6f" stroke-width="1.1" />
<line x1="197.60" y1="780.50" x2="197.60" y2="784.10" stroke="#6fdc6f" stroke-width="1.1" />
<line x1="199.50" y1="780.50" x2="199.50" y2="784.10" stroke="#6fdc6f" stroke-width="1.1" />
<line x1="201.40" y1="780.50" x2="201.40" y2="784.10" stroke="#6fdc6f" stroke-width="1.1" />
<path d="M75.00,792.00 C75.31,792.00 75.56,788.20 75.70,788.20 C76.84,788.20 78.84,792.00 81.40,792.00 Z" fill="#b4b4b4"/>
<path d="M88.00,792.00 C90.34,792.00 92.16,787.80 93.20,787.80 C94.44,787.80 96.61,792.00 99.40,792.00 Z" fill="#b4b4b4"/>
<path d="M185.00,792.00 C188.33,792.00 190.92,784.70 192.40,784.70 C193.82,784.70 196.31,792.00 199.50,792.00 Z" fill="#b4b4b4"/>
<line x1="88.60" y1="799.95" x2="88.60" y2="803.95" stroke="#eb9ceb" stroke-width="0.95" />
<line x1="102.60" y1="799.95" x2="102.60" y2="803.95" stroke="#eb9ceb" stroke-width="0.95" />
<line x1="115.50" y1="799.95" x2="115.50" y2="803.95" stroke="#eb9ceb" stroke-width="0.95" />
<line x1="171.50" y1="799.95" x2="171.50" y2="803.95" stroke="#eb9ceb" stroke-width="0.95" />
<line x1="175.30" y1="799.95" x2="175.30" y2="803.95" stroke="#eb9ceb" stroke-width="0.95" />
<line x1="178.20" y1="799.95" x2="178.20" y2="803.95" stroke="#eb9ceb" stroke-width="0.95" />
<line x1="201.40" y1="799.95" x2="201.40" y2="803.95" stroke="#eb9ceb" stroke-width="0.95" />
<line x1="206.70" y1="799.95" x2="206.70" y2="803.95" stroke="#eb9ceb" stroke-width="0.95" />
<line x1="228.90" y1="799.95" x2="228.90" y2="803.95" stroke="#eb9ceb" stroke-width="0.95" />
<line x1="239.70" y1="799.95" x2="239.70" y2="803.95" stroke="#eb9ceb" stroke-width="0.95" />
<line x1="243.50" y1="799.95" x2="243.50" y2="803.95" stroke="#eb9ceb" stroke-width="0.95" />
<line x1="269.70" y1="799.95" x2="269.70" y2="803.95" stroke="#eb9ceb" stroke-width="0.95" />
<line x1="311.50" y1="799.95" x2="311.50" y2="803.95" stroke="#eb9ceb" stroke-width="0.95" />
<line x1="80.40" y1="803.95" x2="80.40" y2="807.55" stroke="#6fdc6f" stroke-width="1.1" />
<line x1="82.30" y1="803.95" x2="82.30" y2="807.55" stroke="#6fdc6f" stroke-width="1.1" />
<line x1="84.20" y1="803.95" x2="84.20" y2="807.55" stroke="#6fdc6f" stroke-width="1.1" />
<line x1="86.10" y1="803.95" x2="86.10" y2="807.55" stroke="#6fdc6f" stroke-width="1.1" />
<line x1="88.00" y1="803.95" x2="88.00" y2="807.55" stroke="#6fdc6f" stroke-width="1.1" />
<line x1="89.90" y1="803.95" x2="89.90" y2="807.55" stroke="#6fdc6f" stroke-width="1.1" />
<line x1="91.80" y1="803.95" x2="91.80" y2="807.55" stroke="#6fdc6f" stroke-width="1.1" />
<line x1="93.70" y1="803.95" x2="93.70" y2="807.55" stroke="#6fdc6f" stroke-width="1.1" />
<line x1="95.60" y1="803.95" x2="95.60" y2="807.55" stroke="#6fdc6f" stroke-width="1.1" />
<line x1="97.50" y1="803.95" x2="97.50" y2="807.55" stroke="#6fdc6f" stroke-width="1.1" />
<line x1="99.40" y1="803.95" x2="99.40" y2="807.55" stroke="#6fdc6f" stroke-width="1.1" />
<line x1="101.30" y1="803.95" x2="101.30" y2="807.55" stroke="#6fdc6f" stroke-width="1.1" />
<line x1="103.20" y1="803.95" x2="103.20" y2="807.55" stroke="#6fdc6f" stroke-width="1.1" />
<line x1="105.10" y1="803.95" x2="105.10" y2="807.55" stroke="#6fdc6f" stroke-width="1.1" />
<line x1="107.00" y1="803.95" x2="107.00" y2="807.55" stroke="#6fdc6f" stroke-width="1.1" />
<line x1="108.90" y1="803.95" x2="108.90" y2="807.55" stroke="#6fdc6f" stroke-width="1.1" />
<line x1="110.80" y1="803.95" x2="110.80" y2="807.55" stroke="#6fdc6f" stroke-width="1.1" />
<line x1="112.70" y1="803.95" x2="112.70" y2="807.55" stroke="#6fdc6f" stroke-width="1.1" />
<line x1="114.60" y1="803.95" x2="114.60" y2="807.55" stroke="#6fdc6f" stroke-width="1.1" />
<line x1="116.50" y1="803.95" x2="116.50" y2="807.55" stroke="#6fdc6f" stroke-width="1.1" />
<line x1="118.40" y1="803.95" x2="118.40" y2="807.55" stroke="#6fdc6f" stroke-width="1.1" />
<line x1="120.30" y1="803.95" x2="120.30" y2="807.55" stroke="#6fdc6f" stroke-width="1.1" />
<line x1="122.20" y1="803.95" x2="122.20" y2="807.55" stroke="#6fdc6f" stroke-width="1.1" />
<line x1="124.10" y1="803.95" x2="124.10" y2="807.55" stroke="#6fdc6f" stroke-width="1.1" />
<line x1="126.00" y1="803.95" x2="126.00" y2="807.55" stroke="#6fdc6f" stroke-width="1.1" />
<line x1="127.90" y1="803.95" x2="127.90" y2="807.55" stroke="#6fdc6f" stroke-width="1.1" />
<line x1="129.80" y1="803.95" x2="129.80" y2="807.55" stroke="#6fdc6f" stroke-width="1.1" />
<line x1="131.70" y1="803.95" x2="131.70" y2="807.55" stroke="#6fdc6f" stroke-width="1.1" />
<line x1="133.60" y1="803.95" x2="133.60" y2="807.55" stroke="#6fdc6f" stroke-width="1.1" />
<line x1="135.50" y1="803.95" x2="135.50" y2="807.55" stroke="#6fdc6f" stroke-width="1.1" />
<line x1="137.40" y1="803.95" x2="137.40" y2="807.55" stroke="#6fdc6f" stroke-width="1.1" />
<line x1="139.30" y1="803.95" x2="139.30" y2="807.55" stroke="#6fdc6f" stroke-width="1.1" />
<line x1="141.20" y1="803.95" x2="141.20" y2="807.55" stroke="#6fdc6f" stroke-width="1.1" />
<line x1="143.10" y1="803.95" x2="143.10" y2="807.55" stroke="#6fdc6f" stroke-width="1.1" />
<line x1="145.00" y1="803.95" x2="145.00" y2="807.55" stroke="#6fdc6f" stroke-width="1.1" />
<line x1="146.90" y1="803.95" x2="146.90" y2="807.55" stroke="#6fdc6f" stroke-width="1.1" />
<line x1="148.80" y1="803.95" x2="148.80" y2="807.55" stroke="#6fdc6f" stroke-width="1.1" />
<line x1="150.70" y1="803.95" x2="150.70" y2="807.55" stroke="#6fdc6f" stroke-width="1.1" />
<line x1="152.60" y1="803.95" x2="152.60" y2="807.55" stroke="#6fdc6f" stroke-width="1.1" />
<line x1="154.50" y1="803.95" x2="154.50" y2="807.55" stroke="#6fdc6f" stroke-width="1.1" />
<line x1="156.40" y1="803.95" x2="156.40" y2="807.55" stroke="#6fdc6f" stroke-width="1.1" />
<line x1="183.90" y1="803.95" x2="183.90" y2="807.55" stroke="#6fdc6f" stroke-width="1.1" />
<line x1="186.00" y1="803.95" x2="186.00" y2="807.55" stroke="#6fdc6f" stroke-width="1.1" />
<line x1="189.00" y1="803.95" x2="189.00" y2="807.55" stroke="#6fdc6f" stroke-width="1.1" />
<line x1="190.90" y1="803.95" x2="190.90" y2="807.55" stroke="#6fdc6f" stroke-width="1.1" />
<line x1="192.80" y1="803.95" x2="192.80" y2="807.55" stroke="#6fdc6f" stroke-width="1.1" />
<line x1="194.70" y1="803.95" x2="194.70" y2="807.55" stroke="#6fdc6f" stroke-width="1.1" />
<line x1="196.60" y1="803.95" x2="196.60" y2="807.55" stroke="#6fdc6f" stroke-width="1.1" />
<line x1="198.50" y1="803.95" x2="198.50" y2="807.55" stroke="#6fdc6f" stroke-width="1.1" />
<line x1="200.40" y1="803.95" x2="200.40" y2="807.55" stroke="#6fdc6f" stroke-width="1.1" />
<line x1="202.30" y1="803.95" x2="202.30" y2="807.55" stroke="#6fdc6f" stroke-width="1.1" />
<path d="M82.30,815.45 C85.13,815.45 87.34,809.05 88.60,809.05 C89.82,809.05 91.95,815.45 94.70,815.45 Z" fill="#b4b4b4"/>
<path d="M96.60,815.45 C99.30,815.45 101.40,809.05 102.60,809.05 C103.68,809.05 105.57,815.45 108.00,815.45 Z" fill="#b4b4b4"/>
<path d="M109.90,815.45 C112.42,815.45 114.38,809.05 115.50,809.05 C116.64,809.05 118.64,815.45 121.20,815.45 Z" fill="#b4b4b4"/>
<path d="M178.50,815.45 C179.62,815.45 180.50,813.45 181.00,813.45 C181.50,813.45 182.38,815.45 183.50,815.45 Z" fill="#b4b4b4"/>
<polygon points="195.70,815.45 199.50,808.85 205.20,808.85 209.00,815.45" fill="#b4b4b4"/>
<line x1="77.60" y1="823.40" x2="77.60" y2="827.40" stroke="#eb9ceb" stroke-width="0.95" />
<line x1="103.80" y1="823.40" x2="103.80" y2="827.40" stroke="#eb9ceb" stroke-width="0.95" />
<line x1="111.40" y1="823.40" x2="111.40" y2="827.40" stroke="#eb9ceb" stroke-width="0.95" />
<line x1="137.40" y1="823.40" x2="137.40" y2="827.40" stroke="#eb9ceb" stroke-width="0.95" />
<line x1="182.90" y1="823.40" x2="182.90" y2="827.40" stroke="#eb9ceb" stroke-width="0.95" />
<line x1="198.00" y1="823.40" x2="198.00" y2="827.40" stroke="#eb9ceb" stroke-width="0.95" />
<line x1="219.40" y1="823.40" x2="219.40" y2="827.40" stroke="#eb9ceb" stroke-width="0.95" />
<line x1="231.40" y1="823.40" x2="231.40" y2="827.40" stroke="#eb9ceb" stroke-width="0.95" />
<line x1="239.00" y1="823.40" x2="239.00" y2="827.40" stroke="#eb9ceb" stroke-width="0.95" />
<line x1="249.80" y1="823.40" x2="249.80" y2="827.40" stroke="#eb9ceb" stroke-width="0.95" />
<line x1="287.70" y1="823.40" x2="287.70" y2="827.40" stroke="#eb9ceb" stroke-width="0.95" />
<line x1="290.60" y1="823.40" x2="290.60" y2="827.40" stroke="#eb9ceb" stroke-width="0.95" />
<line x1="77.60" y1="827.40" x2="77.60" y2="831.00" stroke="#6fdc6f" stroke-width="1.1" />
<line x1="80.00" y1="827.40" x2="80.00" y2="831.00" stroke="#6fdc6f" stroke-width="1.1" />
<line x1="82.40" y1="827.40" x2="82.40" y2="831.00" stroke="#6fdc6f" stroke-width="1.1" />
<line x1="84.80" y1="827.40" x2="84.80" y2="831.00" stroke="#6fdc6f" stroke-width="1.1" />
<line x1="87.20" y1="827.40" x2="87.20" y2="831.00" stroke="#6fdc6f" stroke-width="1.1" />
<line x1="89.60" y1="827.40" x2="89.60" y2="831.00" stroke="#6fdc6f" stroke-width="1.1" />
<line x1="92.00" y1="827.40" x2="92.00" y2="831.00" stroke="#6fdc6f" stroke-width="1.1" />
<line x1="94.40" y1="827.40" x2="94.40" y2="831.00" stroke="#6fdc6f" stroke-width="1.1" />
<line x1="96.80" y1="827.40" x2="96.80" y2="831.00" stroke="#6fdc6f" stroke-width="1.1" />
<line x1="99.20" y1="827.40" x2="99.20" y2="831.00" stroke="#6fdc6f" stroke-width="1.1" />
<line x1="101.60" y1="827.40" x2="101.60" y2="831.00" stroke="#6fdc6f" stroke-width="1.1" />
<line x1="184.80" y1="827.40" x2="184.80" y2="831.00" stroke="#6fdc6f" stroke-width="1.1" />
<line x1="188.00" y1="827.40" x2="188.00" y2="831.00" stroke="#6fdc6f" stroke-width="1.1" />
<line x1="189.90" y1="827.40" x2="189.90" y2="831.00" stroke="#6fdc6f" stroke-width="1.1" />
<line x1="191.80" y1="827.40" x2="191.80" y2="831.00" stroke="#6fdc6f" stroke-width="1.1" />
<line x1="193.70" y1="827.40" x2="193.70" y2="831.00" stroke="#6fdc6f" stroke-width="1.1" />
<line x1="195.60" y1="827.40" x2="195.60" y2="831.00" stroke="#6fdc6f" stroke-width="1.1" />
<line x1="197.50" y1="827.40" x2="197.50" y2="831.00" stroke="#6fdc6f" stroke-width="1.1" />
<line x1="199.40" y1="827.40" x2="199.40" y2="831.00" stroke="#6fdc6f" stroke-width="1.1" />
<line x1="201.30" y1="827.40" x2="201.30" y2="831.00" stroke="#6fdc6f" stroke-width="1.1" />
<line x1="203.20" y1="827.40" x2="203.20" y2="831.00" stroke="#6fdc6f" stroke-width="1.1" />
<path d="M74.70,838.90 C75.15,838.90 75.50,831.90 75.70,831.90 C77.40,831.90 80.38,838.90 84.20,838.90 Z" fill="#b4b4b4"/>
<path d="M97.50,838.90 C100.06,838.90 102.06,831.90 103.20,831.90 C104.54,831.90 106.89,838.90 109.90,838.90 Z" fill="#b4b4b4"/>
<path d="M176.30,838.90 C179.31,838.90 181.66,831.90 183.00,831.90 C184.32,831.90 186.63,838.90 189.60,838.90 Z" fill="#b4b4b4"/>
<path d="M191.00,838.90 C193.97,838.90 196.28,831.90 197.60,831.90 C198.92,831.90 201.23,838.90 204.20,838.90 Z" fill="#b4b4b4"/>
</g>
<line x1="74.70" y1="678.20" x2="74.70" y2="839.60" stroke="#262626" stroke-width="1.3" />
<line x1="74.70" y1="688.70" x2="77.70" y2="688.70" stroke="#262626" stroke-width="1" />
<text x="69.20" y="693.10" font-size="12.5" fill="#333" text-anchor="end">1</text>
<line x1="74.70" y1="712.15" x2="77.70" y2="712.15" stroke="#262626" stroke-width="1" />
<text x="69.20" y="716.55" font-size="12.5" fill="#333" text-anchor="end">2</text>
<line x1="74.70" y1="735.60" x2="77.70" y2="735.60" stroke="#262626" stroke-width="1" />
<text x="69.20" y="740.00" font-size="12.5" fill="#333" text-anchor="end">3</text>
<line x1="74.70" y1="759.05" x2="77.70" y2="759.05" stroke="#262626" stroke-width="1" />
<text x="69.20" y="763.45" font-size="12.5" fill="#333" text-anchor="end">4</text>
<line x1="74.70" y1="782.50" x2="77.70" y2="782.50" stroke="#262626" stroke-width="1" />
<text x="69.20" y="786.90" font-size="12.5" fill="#333" text-anchor="end">5</text>
<line x1="74.70" y1="805.95" x2="77.70" y2="805.95" stroke="#262626" stroke-width="1" />
<text x="69.20" y="810.35" font-size="12.5" fill="#333" text-anchor="end">6</text>
<line x1="74.70" y1="829.40" x2="77.70" y2="829.40" stroke="#262626" stroke-width="1" />
<text x="69.20" y="833.80" font-size="12.5" fill="#333" text-anchor="end">7</text>
<text x="56.00" y="759.20" font-size="15" fill="#262626" text-anchor="middle" transform="rotate(-90 56.00 759.20)">Trial</text>
<text x="199.60" y="673.50" font-size="14" fill="#000" font-weight="bold" text-anchor="middle" textLength="238.00" lengthAdjust="spacingAndGlyphs">Medium reward expectation trials</text>
<text x="312.60" y="687.60" font-size="12" fill="#e57ee5" font-weight="bold" text-anchor="end" textLength="25.50" lengthAdjust="spacingAndGlyphs">vStr</text>
<text x="311.40" y="697.20" font-size="12" fill="#7fe57f" font-weight="bold" text-anchor="end" textLength="25.00" lengthAdjust="spacingAndGlyphs">CA1</text>
<text x="318.20" y="705.60" font-size="12" fill="#a0a0a0" text-anchor="end" textLength="54.30" lengthAdjust="spacingAndGlyphs">coactivity</text>
<line x1="74.70" y1="843.90" x2="74.70" y2="872.00" stroke="#262626" stroke-width="1.3" />
<line x1="74.10" y1="872.00" x2="317.70" y2="872.00" stroke="#262626" stroke-width="1.3" />
<line x1="74.70" y1="846.40" x2="77.70" y2="846.40" stroke="#262626" stroke-width="1" />
<line x1="200.00" y1="872.00" x2="200.00" y2="869.50" stroke="#262626" stroke-width="1" />
<text x="70.80" y="851.60" font-size="12" fill="#333" text-anchor="end">80</text>
<text x="70.80" y="876.30" font-size="12" fill="#333" text-anchor="end">0</text>
<text x="76.30" y="889.70" font-size="12" fill="#333" text-anchor="middle">-5</text>
<text x="199.80" y="889.50" font-size="12" fill="#333" text-anchor="middle">0</text>
<clipPath id="fcoc"><rect x="70" y="840" width="260" height="33.3"/></clipPath>
<g clip-path="url(#fcoc)">
<path d="M75.10,865.40 C75.52,865.23 76.55,864.25 77.60,864.40 C78.65,864.55 79.98,866.20 81.40,866.30 C82.82,866.40 84.52,864.83 86.10,865.00 C87.68,865.17 89.00,866.35 90.90,867.30 C92.80,868.25 95.45,871.02 97.50,870.70 C99.55,870.38 101.45,865.28 103.20,865.40 C104.95,865.52 105.95,870.83 108.00,871.40 C110.05,871.97 113.62,868.80 115.50,868.80 C117.38,868.80 117.08,871.33 119.30,871.40 C121.52,871.47 126.10,869.10 128.80,869.20 C131.50,869.30 131.70,871.53 135.50,872.00 C139.30,872.47 147.97,872.42 151.60,872.00 C155.23,871.58 155.88,869.72 157.30,869.50 C158.72,869.28 158.68,871.02 160.10,870.70 C161.52,870.38 164.37,868.80 165.80,867.60 C167.23,866.40 167.58,862.92 168.70,863.50 C169.82,864.08 171.23,869.78 172.50,871.10 C173.77,872.42 174.72,871.98 176.30,871.40 C177.88,870.82 180.42,868.13 182.00,867.60 C183.58,867.07 184.22,868.88 185.80,868.20 C187.38,867.52 190.12,864.10 191.50,863.50 C192.88,862.90 193.33,864.07 194.10,864.60 C194.87,865.13 195.08,867.03 196.10,866.70 C197.12,866.37 198.83,863.12 200.20,862.60 C201.57,862.08 202.77,862.07 204.30,863.60 C205.83,865.13 208.12,870.37 209.40,871.80 C210.68,873.23 193.95,872.13 212.00,872.20 C230.05,872.27 300.08,872.20 317.70,872.20" fill="none" stroke="#000" stroke-width="2.2" stroke-linejoin="round" stroke-linecap="round" />
</g>
<text x="13.60" y="859.00" font-size="14.5" fill="#262626" text-anchor="middle" textLength="35.80" lengthAdjust="spacingAndGlyphs" transform="rotate(-90 13.60 859.00)">Mean</text>
<text x="30.50" y="859.00" font-size="14.3" fill="#262626" text-anchor="middle" textLength="61.20" lengthAdjust="spacingAndGlyphs" transform="rotate(-90 30.50 859.00)">coactivity</text>
<text x="48.50" y="858.30" font-size="15" fill="#262626" text-anchor="middle" textLength="59.20" lengthAdjust="spacingAndGlyphs" transform="rotate(-90 48.50 858.30)">(z-score)</text>
<text x="200.30" y="908.00" font-size="13" fill="#262626" text-anchor="middle" textLength="113.00" lengthAdjust="spacingAndGlyphs">Time from arrival</text>
<text x="200.00" y="924.90" font-size="13" fill="#262626" text-anchor="middle" textLength="141.60" lengthAdjust="spacingAndGlyphs">at reward location (s)</text>
<clipPath id="gclip"><rect x="393.7" y="676" width="260" height="163.4"/></clipPath>
<g clip-path="url(#gclip)">
<line x1="406.10" y1="683.20" x2="406.10" y2="686.40" stroke="#eb9ceb" stroke-width="0.95" />
<line x1="414.70" y1="683.20" x2="414.70" y2="686.40" stroke="#eb9ceb" stroke-width="0.95" />
<line x1="422.30" y1="683.20" x2="422.30" y2="686.40" stroke="#eb9ceb" stroke-width="0.95" />
<line x1="448.80" y1="683.20" x2="448.80" y2="686.40" stroke="#eb9ceb" stroke-width="0.95" />
<line x1="453.60" y1="683.20" x2="453.60" y2="686.40" stroke="#eb9ceb" stroke-width="0.95" />
<line x1="457.40" y1="683.20" x2="457.40" y2="686.40" stroke="#eb9ceb" stroke-width="0.95" />
<line x1="465.50" y1="683.20" x2="465.50" y2="686.40" stroke="#eb9ceb" stroke-width="0.95" />
<line x1="472.60" y1="683.20" x2="472.60" y2="686.40" stroke="#eb9ceb" stroke-width="0.95" />
<line x1="478.30" y1="683.20" x2="478.30" y2="686.40" stroke="#eb9ceb" stroke-width="0.95" />
<line x1="483.00" y1="683.20" x2="483.00" y2="686.40" stroke="#eb9ceb" stroke-width="0.95" />
<line x1="498.20" y1="683.20" x2="498.20" y2="686.40" stroke="#eb9ceb" stroke-width="0.95" />
<line x1="511.50" y1="683.20" x2="511.50" y2="686.40" stroke="#eb9ceb" stroke-width="0.95" />
<line x1="527.50" y1="683.20" x2="527.50" y2="686.40" stroke="#eb9ceb" stroke-width="0.95" />
<line x1="538.50" y1="683.20" x2="538.50" y2="686.40" stroke="#eb9ceb" stroke-width="0.95" />
<line x1="550.20" y1="683.20" x2="550.20" y2="686.40" stroke="#eb9ceb" stroke-width="0.95" />
<line x1="597.30" y1="683.20" x2="597.30" y2="686.40" stroke="#eb9ceb" stroke-width="0.95" />
<line x1="633.40" y1="683.20" x2="633.40" y2="686.40" stroke="#eb9ceb" stroke-width="0.95" />
<line x1="394.70" y1="686.90" x2="394.70" y2="690.30" stroke="#6fdc6f" stroke-width="1.1" />
<line x1="397.60" y1="686.90" x2="397.60" y2="690.30" stroke="#6fdc6f" stroke-width="1.1" />
<line x1="400.50" y1="686.90" x2="400.50" y2="690.30" stroke="#6fdc6f" stroke-width="1.1" />
<line x1="403.40" y1="686.90" x2="403.40" y2="690.30" stroke="#6fdc6f" stroke-width="1.1" />
<line x1="406.30" y1="686.90" x2="406.30" y2="690.30" stroke="#6fdc6f" stroke-width="1.1" />
<line x1="409.20" y1="686.90" x2="409.20" y2="690.30" stroke="#6fdc6f" stroke-width="1.1" />
<line x1="412.10" y1="686.90" x2="412.10" y2="690.30" stroke="#6fdc6f" stroke-width="1.1" />
<line x1="415.00" y1="686.90" x2="415.00" y2="690.30" stroke="#6fdc6f" stroke-width="1.1" />
<line x1="417.90" y1="686.90" x2="417.90" y2="690.30" stroke="#6fdc6f" stroke-width="1.1" />
<line x1="420.80" y1="686.90" x2="420.80" y2="690.30" stroke="#6fdc6f" stroke-width="1.1" />
<line x1="423.70" y1="686.90" x2="423.70" y2="690.30" stroke="#6fdc6f" stroke-width="1.1" />
<line x1="426.60" y1="686.90" x2="426.60" y2="690.30" stroke="#6fdc6f" stroke-width="1.1" />
<line x1="429.50" y1="686.90" x2="429.50" y2="690.30" stroke="#6fdc6f" stroke-width="1.1" />
<line x1="432.40" y1="686.90" x2="432.40" y2="690.30" stroke="#6fdc6f" stroke-width="1.1" />
<line x1="435.30" y1="686.90" x2="435.30" y2="690.30" stroke="#6fdc6f" stroke-width="1.1" />
<line x1="438.20" y1="686.90" x2="438.20" y2="690.30" stroke="#6fdc6f" stroke-width="1.1" />
<line x1="441.10" y1="686.90" x2="441.10" y2="690.30" stroke="#6fdc6f" stroke-width="1.1" />
<line x1="444.10" y1="686.90" x2="444.10" y2="690.30" stroke="#6fdc6f" stroke-width="1.1" />
<line x1="446.00" y1="686.90" x2="446.00" y2="690.30" stroke="#6fdc6f" stroke-width="1.1" />
<line x1="447.90" y1="686.90" x2="447.90" y2="690.30" stroke="#6fdc6f" stroke-width="1.1" />
<line x1="449.80" y1="686.90" x2="449.80" y2="690.30" stroke="#6fdc6f" stroke-width="1.1" />
<line x1="451.70" y1="686.90" x2="451.70" y2="690.30" stroke="#6fdc6f" stroke-width="1.1" />
<line x1="453.60" y1="686.90" x2="453.60" y2="690.30" stroke="#6fdc6f" stroke-width="1.1" />
<line x1="455.50" y1="686.90" x2="455.50" y2="690.30" stroke="#6fdc6f" stroke-width="1.1" />
<line x1="457.40" y1="686.90" x2="457.40" y2="690.30" stroke="#6fdc6f" stroke-width="1.1" />
<line x1="459.30" y1="686.90" x2="459.30" y2="690.30" stroke="#6fdc6f" stroke-width="1.1" />
<line x1="461.20" y1="686.90" x2="461.20" y2="690.30" stroke="#6fdc6f" stroke-width="1.1" />
<line x1="463.10" y1="686.90" x2="463.10" y2="690.30" stroke="#6fdc6f" stroke-width="1.1" />
<line x1="465.00" y1="686.90" x2="465.00" y2="690.30" stroke="#6fdc6f" stroke-width="1.1" />
<line x1="466.90" y1="686.90" x2="466.90" y2="690.30" stroke="#6fdc6f" stroke-width="1.1" />
<line x1="468.80" y1="686.90" x2="468.80" y2="690.30" stroke="#6fdc6f" stroke-width="1.1" />
<line x1="470.70" y1="686.90" x2="470.70" y2="690.30" stroke="#6fdc6f" stroke-width="1.1" />
<line x1="472.60" y1="686.90" x2="472.60" y2="690.30" stroke="#6fdc6f" stroke-width="1.1" />
<line x1="474.50" y1="686.90" x2="474.50" y2="690.30" stroke="#6fdc6f" stroke-width="1.1" />
<line x1="476.40" y1="686.90" x2="476.40" y2="690.30" stroke="#6fdc6f" stroke-width="1.1" />
<line x1="478.30" y1="686.90" x2="478.30" y2="690.30" stroke="#6fdc6f" stroke-width="1.1" />
<line x1="480.20" y1="686.90" x2="480.20" y2="690.30" stroke="#6fdc6f" stroke-width="1.1" />
<line x1="482.10" y1="686.90" x2="482.10" y2="690.30" stroke="#6fdc6f" stroke-width="1.1" />
<line x1="484.00" y1="686.90" x2="484.00" y2="690.30" stroke="#6fdc6f" stroke-width="1.1" />
<line x1="485.90" y1="686.90" x2="485.90" y2="690.30" stroke="#6fdc6f" stroke-width="1.1" />
<line x1="487.80" y1="686.90" x2="487.80" y2="690.30" stroke="#6fdc6f" stroke-width="1.1" />
<line x1="489.70" y1="686.90" x2="489.70" y2="690.30" stroke="#6fdc6f" stroke-width="1.1" />
<line x1="491.60" y1="686.90" x2="491.60" y2="690.30" stroke="#6fdc6f" stroke-width="1.1" />
<line x1="493.50" y1="686.90" x2="493.50" y2="690.30" stroke="#6fdc6f" stroke-width="1.1" />
<line x1="495.40" y1="686.90" x2="495.40" y2="690.30" stroke="#6fdc6f" stroke-width="1.1" />
<line x1="497.30" y1="686.90" x2="497.30" y2="690.30" stroke="#6fdc6f" stroke-width="1.1" />
<line x1="499.20" y1="686.90" x2="499.20" y2="690.30" stroke="#6fdc6f" stroke-width="1.1" />
<line x1="501.10" y1="686.90" x2="501.10" y2="690.30" stroke="#6fdc6f" stroke-width="1.1" />
<line x1="503.00" y1="686.90" x2="503.00" y2="690.30" stroke="#6fdc6f" stroke-width="1.1" />
<line x1="504.90" y1="686.90" x2="504.90" y2="690.30" stroke="#6fdc6f" stroke-width="1.1" />
<line x1="506.80" y1="686.90" x2="506.80" y2="690.30" stroke="#6fdc6f" stroke-width="1.1" />
<line x1="508.70" y1="686.90" x2="508.70" y2="690.30" stroke="#6fdc6f" stroke-width="1.1" />
<line x1="510.60" y1="686.90" x2="510.60" y2="690.30" stroke="#6fdc6f" stroke-width="1.1" />
<line x1="512.50" y1="686.90" x2="512.50" y2="690.30" stroke="#6fdc6f" stroke-width="1.1" />
<line x1="514.40" y1="686.90" x2="514.40" y2="690.30" stroke="#6fdc6f" stroke-width="1.1" />
<line x1="516.30" y1="686.90" x2="516.30" y2="690.30" stroke="#6fdc6f" stroke-width="1.1" />
<line x1="518.20" y1="686.90" x2="518.20" y2="690.30" stroke="#6fdc6f" stroke-width="1.1" />
<line x1="520.10" y1="686.90" x2="520.10" y2="690.30" stroke="#6fdc6f" stroke-width="1.1" />
<path d="M401.00,696.70 C403.70,696.70 405.80,694.20 407.00,694.20 C408.20,694.20 410.30,696.70 413.00,696.70 Z" fill="#b4b4b4"/>
<path d="M410.00,696.70 C412.97,696.70 415.28,694.20 416.60,694.20 C418.08,694.20 420.67,696.70 424.00,696.70 Z" fill="#b4b4b4"/>
<path d="M416.00,696.70 C418.83,696.70 421.04,694.20 422.30,694.20 C423.44,694.20 425.44,696.70 428.00,696.70 Z" fill="#b4b4b4"/>
<path d="M444.10,696.70 C449.23,696.70 453.22,690.30 455.50,690.30 C457.58,690.30 461.22,696.70 465.90,696.70 Z" fill="#b4b4b4"/>
<path d="M469.70,696.70 C475.69,696.70 480.34,692.10 483.00,692.10 C484.14,692.10 486.13,696.70 488.70,696.70 Z" fill="#b4b4b4"/>
<path d="M493.40,696.70 C495.92,696.70 497.88,695.20 499.00,695.20 C500.00,695.20 501.75,696.70 504.00,696.70 Z" fill="#b4b4b4"/>
<path d="M505.80,696.70 C508.14,696.70 509.96,695.20 511.00,695.20 C511.86,695.20 513.37,696.70 515.30,696.70 Z" fill="#b4b4b4"/>
<line x1="419.40" y1="703.66" x2="419.40" y2="706.86" stroke="#eb9ceb" stroke-width="0.95" />
<line x1="436.50" y1="703.66" x2="436.50" y2="706.86" stroke="#eb9ceb" stroke-width="0.95" />
<line x1="470.70" y1="703.66" x2="470.70" y2="706.86" stroke="#eb9ceb" stroke-width="0.95" />
<line x1="483.60" y1="703.66" x2="483.60" y2="706.86" stroke="#eb9ceb" stroke-width="0.95" />
<line x1="497.20" y1="703.66" x2="497.20" y2="706.86" stroke="#eb9ceb" stroke-width="0.95" />
<line x1="499.10" y1="703.66" x2="499.10" y2="706.86" stroke="#eb9ceb" stroke-width="0.95" />
<line x1="516.20" y1="703.66" x2="516.20" y2="706.86" stroke="#eb9ceb" stroke-width="0.95" />
<line x1="533.30" y1="703.66" x2="533.30" y2="706.86" stroke="#eb9ceb" stroke-width="0.95" />
<line x1="575.50" y1="703.66" x2="575.50" y2="706.86" stroke="#eb9ceb" stroke-width="0.95" />
<line x1="604.00" y1="703.66" x2="604.00" y2="706.86" stroke="#eb9ceb" stroke-width="0.95" />
<line x1="613.40" y1="703.66" x2="613.40" y2="706.86" stroke="#eb9ceb" stroke-width="0.95" />
<line x1="464.60" y1="707.36" x2="464.60" y2="710.76" stroke="#6fdc6f" stroke-width="1.1" />
<line x1="480.70" y1="707.36" x2="480.70" y2="710.76" stroke="#6fdc6f" stroke-width="1.1" />
<line x1="482.60" y1="707.36" x2="482.60" y2="710.76" stroke="#6fdc6f" stroke-width="1.1" />
<line x1="484.50" y1="707.36" x2="484.50" y2="710.76" stroke="#6fdc6f" stroke-width="1.1" />
<line x1="486.40" y1="707.36" x2="486.40" y2="710.76" stroke="#6fdc6f" stroke-width="1.1" />
<line x1="488.30" y1="707.36" x2="488.30" y2="710.76" stroke="#6fdc6f" stroke-width="1.1" />
<line x1="490.20" y1="707.36" x2="490.20" y2="710.76" stroke="#6fdc6f" stroke-width="1.1" />
<line x1="492.10" y1="707.36" x2="492.10" y2="710.76" stroke="#6fdc6f" stroke-width="1.1" />
<line x1="494.00" y1="707.36" x2="494.00" y2="710.76" stroke="#6fdc6f" stroke-width="1.1" />
<line x1="495.90" y1="707.36" x2="495.90" y2="710.76" stroke="#6fdc6f" stroke-width="1.1" />
<line x1="497.80" y1="707.36" x2="497.80" y2="710.76" stroke="#6fdc6f" stroke-width="1.1" />
<line x1="499.70" y1="707.36" x2="499.70" y2="710.76" stroke="#6fdc6f" stroke-width="1.1" />
<line x1="501.60" y1="707.36" x2="501.60" y2="710.76" stroke="#6fdc6f" stroke-width="1.1" />
<line x1="503.50" y1="707.36" x2="503.50" y2="710.76" stroke="#6fdc6f" stroke-width="1.1" />
<line x1="505.40" y1="707.36" x2="505.40" y2="710.76" stroke="#6fdc6f" stroke-width="1.1" />
<line x1="507.30" y1="707.36" x2="507.30" y2="710.76" stroke="#6fdc6f" stroke-width="1.1" />
<line x1="509.20" y1="707.36" x2="509.20" y2="710.76" stroke="#6fdc6f" stroke-width="1.1" />
<line x1="511.10" y1="707.36" x2="511.10" y2="710.76" stroke="#6fdc6f" stroke-width="1.1" />
<line x1="513.00" y1="707.36" x2="513.00" y2="710.76" stroke="#6fdc6f" stroke-width="1.1" />
<line x1="514.90" y1="707.36" x2="514.90" y2="710.76" stroke="#6fdc6f" stroke-width="1.1" />
<line x1="516.80" y1="707.36" x2="516.80" y2="710.76" stroke="#6fdc6f" stroke-width="1.1" />
<line x1="518.70" y1="707.36" x2="518.70" y2="710.76" stroke="#6fdc6f" stroke-width="1.1" />
<line x1="520.60" y1="707.36" x2="520.60" y2="710.76" stroke="#6fdc6f" stroke-width="1.1" />
<path d="M465.50,717.16 C466.18,717.16 466.70,715.66 467.00,715.66 C467.60,715.66 468.65,717.16 470.00,717.16 Z" fill="#b4b4b4"/>
<path d="M479.20,717.16 C480.91,717.16 482.24,713.96 483.00,713.96 C484.14,713.96 486.13,717.16 488.70,717.16 Z" fill="#b4b4b4"/>
<path d="M490.60,717.16 C493.84,717.16 496.36,710.76 497.80,710.76 C499.20,710.76 501.65,717.16 504.80,717.16 Z" fill="#b4b4b4"/>
<path d="M511.00,717.16 C513.52,717.16 515.48,713.66 516.60,713.66 C517.74,713.66 519.74,717.16 522.30,717.16 Z" fill="#b4b4b4"/>
<line x1="405.60" y1="724.12" x2="405.60" y2="727.32" stroke="#eb9ceb" stroke-width="0.95" />
<line x1="431.80" y1="724.12" x2="431.80" y2="727.32" stroke="#eb9ceb" stroke-width="0.95" />
<line x1="454.50" y1="724.12" x2="454.50" y2="727.32" stroke="#eb9ceb" stroke-width="0.95" />
<line x1="481.50" y1="724.12" x2="481.50" y2="727.32" stroke="#eb9ceb" stroke-width="0.95" />
<line x1="493.40" y1="724.12" x2="493.40" y2="727.32" stroke="#eb9ceb" stroke-width="0.95" />
<line x1="498.20" y1="724.12" x2="498.20" y2="727.32" stroke="#eb9ceb" stroke-width="0.95" />
<line x1="500.10" y1="724.12" x2="500.10" y2="727.32" stroke="#eb9ceb" stroke-width="0.95" />
<line x1="551.40" y1="724.12" x2="551.40" y2="727.32" stroke="#eb9ceb" stroke-width="0.95" />
<line x1="578.30" y1="724.12" x2="578.30" y2="727.32" stroke="#eb9ceb" stroke-width="0.95" />
<line x1="616.70" y1="724.12" x2="616.70" y2="727.32" stroke="#eb9ceb" stroke-width="0.95" />
<line x1="633.40" y1="724.12" x2="633.40" y2="727.32" stroke="#eb9ceb" stroke-width="0.95" />
<line x1="394.70" y1="727.82" x2="394.70" y2="731.22" stroke="#6fdc6f" stroke-width="1.1" />
<line x1="397.60" y1="727.82" x2="397.60" y2="731.22" stroke="#6fdc6f" stroke-width="1.1" />
<line x1="400.50" y1="727.82" x2="400.50" y2="731.22" stroke="#6fdc6f" stroke-width="1.1" />
<line x1="403.40" y1="727.82" x2="403.40" y2="731.22" stroke="#6fdc6f" stroke-width="1.1" />
<line x1="406.30" y1="727.82" x2="406.30" y2="731.22" stroke="#6fdc6f" stroke-width="1.1" />
<line x1="409.20" y1="727.82" x2="409.20" y2="731.22" stroke="#6fdc6f" stroke-width="1.1" />
<line x1="412.10" y1="727.82" x2="412.10" y2="731.22" stroke="#6fdc6f" stroke-width="1.1" />
<line x1="415.00" y1="727.82" x2="415.00" y2="731.22" stroke="#6fdc6f" stroke-width="1.1" />
<line x1="417.90" y1="727.82" x2="417.90" y2="731.22" stroke="#6fdc6f" stroke-width="1.1" />
<line x1="427.00" y1="727.82" x2="427.00" y2="731.22" stroke="#6fdc6f" stroke-width="1.1" />
<line x1="428.90" y1="727.82" x2="428.90" y2="731.22" stroke="#6fdc6f" stroke-width="1.1" />
<line x1="430.80" y1="727.82" x2="430.80" y2="731.22" stroke="#6fdc6f" stroke-width="1.1" />
<line x1="432.70" y1="727.82" x2="432.70" y2="731.22" stroke="#6fdc6f" stroke-width="1.1" />
<line x1="434.60" y1="727.82" x2="434.60" y2="731.22" stroke="#6fdc6f" stroke-width="1.1" />
<line x1="436.50" y1="727.82" x2="436.50" y2="731.22" stroke="#6fdc6f" stroke-width="1.1" />
<line x1="438.40" y1="727.82" x2="438.40" y2="731.22" stroke="#6fdc6f" stroke-width="1.1" />
<line x1="440.30" y1="727.82" x2="440.30" y2="731.22" stroke="#6fdc6f" stroke-width="1.1" />
<line x1="442.20" y1="727.82" x2="442.20" y2="731.22" stroke="#6fdc6f" stroke-width="1.1" />
<line x1="444.10" y1="727.82" x2="444.10" y2="731.22" stroke="#6fdc6f" stroke-width="1.1" />
<line x1="446.00" y1="727.82" x2="446.00" y2="731.22" stroke="#6fdc6f" stroke-width="1.1" />
<line x1="447.90" y1="727.82" x2="447.90" y2="731.22" stroke="#6fdc6f" stroke-width="1.1" />
<line x1="449.80" y1="727.82" x2="449.80" y2="731.22" stroke="#6fdc6f" stroke-width="1.1" />
<line x1="451.70" y1="727.82" x2="451.70" y2="731.22" stroke="#6fdc6f" stroke-width="1.1" />
<line x1="453.60" y1="727.82" x2="453.60" y2="731.22" stroke="#6fdc6f" stroke-width="1.1" />
<line x1="455.50" y1="727.82" x2="455.50" y2="731.22" stroke="#6fdc6f" stroke-width="1.1" />
<line x1="457.40" y1="727.82" x2="457.40" y2="731.22" stroke="#6fdc6f" stroke-width="1.1" />
<line x1="459.30" y1="727.82" x2="459.30" y2="731.22" stroke="#6fdc6f" stroke-width="1.1" />
<line x1="461.20" y1="727.82" x2="461.20" y2="731.22" stroke="#6fdc6f" stroke-width="1.1" />
<line x1="463.10" y1="727.82" x2="463.10" y2="731.22" stroke="#6fdc6f" stroke-width="1.1" />
<line x1="465.00" y1="727.82" x2="465.00" y2="731.22" stroke="#6fdc6f" stroke-width="1.1" />
<line x1="466.90" y1="727.82" x2="466.90" y2="731.22" stroke="#6fdc6f" stroke-width="1.1" />
<line x1="468.80" y1="727.82" x2="468.80" y2="731.22" stroke="#6fdc6f" stroke-width="1.1" />
<line x1="470.70" y1="727.82" x2="470.70" y2="731.22" stroke="#6fdc6f" stroke-width="1.1" />
<line x1="486.80" y1="727.82" x2="486.80" y2="731.22" stroke="#6fdc6f" stroke-width="1.1" />
<line x1="488.70" y1="727.82" x2="488.70" y2="731.22" stroke="#6fdc6f" stroke-width="1.1" />
<line x1="490.60" y1="727.82" x2="490.60" y2="731.22" stroke="#6fdc6f" stroke-width="1.1" />
<line x1="492.50" y1="727.82" x2="492.50" y2="731.22" stroke="#6fdc6f" stroke-width="1.1" />
<line x1="494.40" y1="727.82" x2="494.40" y2="731.22" stroke="#6fdc6f" stroke-width="1.1" />
<line x1="496.30" y1="727.82" x2="496.30" y2="731.22" stroke="#6fdc6f" stroke-width="1.1" />
<line x1="498.20" y1="727.82" x2="498.20" y2="731.22" stroke="#6fdc6f" stroke-width="1.1" />
<line x1="500.10" y1="727.82" x2="500.10" y2="731.22" stroke="#6fdc6f" stroke-width="1.1" />
<line x1="502.00" y1="727.82" x2="502.00" y2="731.22" stroke="#6fdc6f" stroke-width="1.1" />
<line x1="503.90" y1="727.82" x2="503.90" y2="731.22" stroke="#6fdc6f" stroke-width="1.1" />
<line x1="505.80" y1="727.82" x2="505.80" y2="731.22" stroke="#6fdc6f" stroke-width="1.1" />
<line x1="507.70" y1="727.82" x2="507.70" y2="731.22" stroke="#6fdc6f" stroke-width="1.1" />
<line x1="509.60" y1="727.82" x2="509.60" y2="731.22" stroke="#6fdc6f" stroke-width="1.1" />
<line x1="511.50" y1="727.82" x2="511.50" y2="731.22" stroke="#6fdc6f" stroke-width="1.1" />
<line x1="513.40" y1="727.82" x2="513.40" y2="731.22" stroke="#6fdc6f" stroke-width="1.1" />
<line x1="515.30" y1="727.82" x2="515.30" y2="731.22" stroke="#6fdc6f" stroke-width="1.1" />
<line x1="517.20" y1="727.82" x2="517.20" y2="731.22" stroke="#6fdc6f" stroke-width="1.1" />
<line x1="519.10" y1="727.82" x2="519.10" y2="731.22" stroke="#6fdc6f" stroke-width="1.1" />
<path d="M400.40,737.62 C402.74,737.62 404.56,735.22 405.60,735.22 C406.46,735.22 407.96,737.62 409.90,737.62 Z" fill="#b4b4b4"/>
<path d="M427.00,737.62 C429.16,737.62 430.84,735.22 431.80,735.22 C432.74,735.22 434.38,737.62 436.50,737.62 Z" fill="#b4b4b4"/>
<path d="M450.70,737.62 C452.41,737.62 453.74,735.22 454.50,735.22 C455.46,735.22 457.14,737.62 459.30,737.62 Z" fill="#b4b4b4"/>
<path d="M481.10,737.62 C481.96,737.62 482.62,736.12 483.00,736.12 C483.56,736.12 484.54,737.62 485.80,737.62 Z" fill="#b4b4b4"/>
<path d="M488.70,737.62 C491.67,737.62 493.98,731.02 495.30,731.02 C497.20,731.02 500.53,737.62 504.80,737.62 Z" fill="#b4b4b4"/>
<line x1="413.70" y1="744.58" x2="413.70" y2="747.78" stroke="#eb9ceb" stroke-width="0.95" />
<line x1="419.40" y1="744.58" x2="419.40" y2="747.78" stroke="#eb9ceb" stroke-width="0.95" />
<line x1="426.10" y1="744.58" x2="426.10" y2="747.78" stroke="#eb9ceb" stroke-width="0.95" />
<line x1="470.70" y1="744.58" x2="470.70" y2="747.78" stroke="#eb9ceb" stroke-width="0.95" />
<line x1="475.80" y1="744.58" x2="475.80" y2="747.78" stroke="#eb9ceb" stroke-width="0.95" />
<line x1="495.30" y1="744.58" x2="495.30" y2="747.78" stroke="#eb9ceb" stroke-width="0.95" />
<line x1="514.30" y1="744.58" x2="514.30" y2="747.78" stroke="#eb9ceb" stroke-width="0.95" />
<line x1="598.80" y1="744.58" x2="598.80" y2="747.78" stroke="#eb9ceb" stroke-width="0.95" />
<line x1="621.00" y1="744.58" x2="621.00" y2="747.78" stroke="#eb9ceb" stroke-width="0.95" />
<line x1="509.60" y1="748.28" x2="509.60" y2="751.68" stroke="#6fdc6f" stroke-width="1.1" />
<line x1="511.50" y1="748.28" x2="511.50" y2="751.68" stroke="#6fdc6f" stroke-width="1.1" />
<line x1="513.40" y1="748.28" x2="513.40" y2="751.68" stroke="#6fdc6f" stroke-width="1.1" />
<line x1="515.30" y1="748.28" x2="515.30" y2="751.68" stroke="#6fdc6f" stroke-width="1.1" />
<line x1="517.20" y1="748.28" x2="517.20" y2="751.68" stroke="#6fdc6f" stroke-width="1.1" />
<line x1="519.10" y1="748.28" x2="519.10" y2="751.68" stroke="#6fdc6f" stroke-width="1.1" />
<line x1="521.00" y1="748.28" x2="521.00" y2="751.68" stroke="#6fdc6f" stroke-width="1.1" />
<path d="M508.60,758.08 C511.16,758.08 513.16,751.48 514.30,751.48 C515.84,751.48 518.53,758.08 522.00,758.08 Z" fill="#b4b4b4"/>
<line x1="463.10" y1="765.04" x2="463.10" y2="768.24" stroke="#eb9ceb" stroke-width="0.95" />
<line x1="465.50" y1="765.04" x2="465.50" y2="768.24" stroke="#eb9ceb" stroke-width="0.95" />
<line x1="472.00" y1="765.04" x2="472.00" y2="768.24" stroke="#eb9ceb" stroke-width="0.95" />
<line x1="478.30" y1="765.04" x2="478.30" y2="768.24" stroke="#eb9ceb" stroke-width="0.95" />
<line x1="490.60" y1="765.04" x2="490.60" y2="768.24" stroke="#eb9ceb" stroke-width="0.95" />
<line x1="493.40" y1="765.04" x2="493.40" y2="768.24" stroke="#eb9ceb" stroke-width="0.95" />
<line x1="497.80" y1="765.04" x2="497.80" y2="768.24" stroke="#eb9ceb" stroke-width="0.95" />
<line x1="536.60" y1="765.04" x2="536.60" y2="768.24" stroke="#eb9ceb" stroke-width="0.95" />
<line x1="553.70" y1="765.04" x2="553.70" y2="768.24" stroke="#eb9ceb" stroke-width="0.95" />
<line x1="555.50" y1="765.04" x2="555.50" y2="768.24" stroke="#eb9ceb" stroke-width="0.95" />
<line x1="583.00" y1="765.04" x2="583.00" y2="768.24" stroke="#eb9ceb" stroke-width="0.95" />
<line x1="611.50" y1="765.04" x2="611.50" y2="768.24" stroke="#eb9ceb" stroke-width="0.95" />
<line x1="426.00" y1="768.74" x2="426.00" y2="772.14" stroke="#6fdc6f" stroke-width="1.1" />
<line x1="427.90" y1="768.74" x2="427.90" y2="772.14" stroke="#6fdc6f" stroke-width="1.1" />
<line x1="429.80" y1="768.74" x2="429.80" y2="772.14" stroke="#6fdc6f" stroke-width="1.1" />
<line x1="431.70" y1="768.74" x2="431.70" y2="772.14" stroke="#6fdc6f" stroke-width="1.1" />
<line x1="433.60" y1="768.74" x2="433.60" y2="772.14" stroke="#6fdc6f" stroke-width="1.1" />
<line x1="435.50" y1="768.74" x2="435.50" y2="772.14" stroke="#6fdc6f" stroke-width="1.1" />
<line x1="501.00" y1="768.74" x2="501.00" y2="772.14" stroke="#6fdc6f" stroke-width="1.1" />
<line x1="502.90" y1="768.74" x2="502.90" y2="772.14" stroke="#6fdc6f" stroke-width="1.1" />
<line x1="504.80" y1="768.74" x2="504.80" y2="772.14" stroke="#6fdc6f" stroke-width="1.1" />
<line x1="506.70" y1="768.74" x2="506.70" y2="772.14" stroke="#6fdc6f" stroke-width="1.1" />
<line x1="508.60" y1="768.74" x2="508.60" y2="772.14" stroke="#6fdc6f" stroke-width="1.1" />
<line x1="510.50" y1="768.74" x2="510.50" y2="772.14" stroke="#6fdc6f" stroke-width="1.1" />
<line x1="512.40" y1="768.74" x2="512.40" y2="772.14" stroke="#6fdc6f" stroke-width="1.1" />
<line x1="514.30" y1="768.74" x2="514.30" y2="772.14" stroke="#6fdc6f" stroke-width="1.1" />
<line x1="516.20" y1="768.74" x2="516.20" y2="772.14" stroke="#6fdc6f" stroke-width="1.1" />
<path d="M494.00,778.54 C495.71,778.54 497.04,772.84 497.80,772.84 C498.94,772.84 500.94,778.54 503.50,778.54 Z" fill="#b4b4b4"/>
<line x1="415.00" y1="785.50" x2="415.00" y2="788.70" stroke="#eb9ceb" stroke-width="0.95" />
<line x1="460.60" y1="785.50" x2="460.60" y2="788.70" stroke="#eb9ceb" stroke-width="0.95" />
<line x1="472.60" y1="785.50" x2="472.60" y2="788.70" stroke="#eb9ceb" stroke-width="0.95" />
<line x1="480.70" y1="785.50" x2="480.70" y2="788.70" stroke="#eb9ceb" stroke-width="0.95" />
<line x1="483.00" y1="785.50" x2="483.00" y2="788.70" stroke="#eb9ceb" stroke-width="0.95" />
<line x1="496.30" y1="785.50" x2="496.30" y2="788.70" stroke="#eb9ceb" stroke-width="0.95" />
<line x1="510.50" y1="785.50" x2="510.50" y2="788.70" stroke="#eb9ceb" stroke-width="0.95" />
<line x1="393.80" y1="789.20" x2="393.80" y2="792.60" stroke="#6fdc6f" stroke-width="1.1" />
<line x1="396.70" y1="789.20" x2="396.70" y2="792.60" stroke="#6fdc6f" stroke-width="1.1" />
<line x1="399.60" y1="789.20" x2="399.60" y2="792.60" stroke="#6fdc6f" stroke-width="1.1" />
<line x1="402.50" y1="789.20" x2="402.50" y2="792.60" stroke="#6fdc6f" stroke-width="1.1" />
<line x1="405.40" y1="789.20" x2="405.40" y2="792.60" stroke="#6fdc6f" stroke-width="1.1" />
<line x1="409.00" y1="789.20" x2="409.00" y2="792.60" stroke="#6fdc6f" stroke-width="1.1" />
<line x1="410.90" y1="789.20" x2="410.90" y2="792.60" stroke="#6fdc6f" stroke-width="1.1" />
<line x1="412.80" y1="789.20" x2="412.80" y2="792.60" stroke="#6fdc6f" stroke-width="1.1" />
<line x1="414.70" y1="789.20" x2="414.70" y2="792.60" stroke="#6fdc6f" stroke-width="1.1" />
<line x1="416.60" y1="789.20" x2="416.60" y2="792.60" stroke="#6fdc6f" stroke-width="1.1" />
<line x1="418.50" y1="789.20" x2="418.50" y2="792.60" stroke="#6fdc6f" stroke-width="1.1" />
<line x1="420.40" y1="789.20" x2="420.40" y2="792.60" stroke="#6fdc6f" stroke-width="1.1" />
<line x1="422.30" y1="789.20" x2="422.30" y2="792.60" stroke="#6fdc6f" stroke-width="1.1" />
<line x1="424.20" y1="789.20" x2="424.20" y2="792.60" stroke="#6fdc6f" stroke-width="1.1" />
<line x1="426.10" y1="789.20" x2="426.10" y2="792.60" stroke="#6fdc6f" stroke-width="1.1" />
<line x1="428.00" y1="789.20" x2="428.00" y2="792.60" stroke="#6fdc6f" stroke-width="1.1" />
<line x1="429.90" y1="789.20" x2="429.90" y2="792.60" stroke="#6fdc6f" stroke-width="1.1" />
<line x1="434.60" y1="789.20" x2="434.60" y2="792.60" stroke="#6fdc6f" stroke-width="1.1" />
<line x1="436.50" y1="789.20" x2="436.50" y2="792.60" stroke="#6fdc6f" stroke-width="1.1" />
<line x1="438.40" y1="789.20" x2="438.40" y2="792.60" stroke="#6fdc6f" stroke-width="1.1" />
<line x1="440.30" y1="789.20" x2="440.30" y2="792.60" stroke="#6fdc6f" stroke-width="1.1" />
<line x1="442.20" y1="789.20" x2="442.20" y2="792.60" stroke="#6fdc6f" stroke-width="1.1" />
<line x1="444.10" y1="789.20" x2="444.10" y2="792.60" stroke="#6fdc6f" stroke-width="1.1" />
<line x1="446.00" y1="789.20" x2="446.00" y2="792.60" stroke="#6fdc6f" stroke-width="1.1" />
<line x1="447.90" y1="789.20" x2="447.90" y2="792.60" stroke="#6fdc6f" stroke-width="1.1" />
<line x1="449.80" y1="789.20" x2="449.80" y2="792.60" stroke="#6fdc6f" stroke-width="1.1" />
<line x1="451.70" y1="789.20" x2="451.70" y2="792.60" stroke="#6fdc6f" stroke-width="1.1" />
<line x1="456.40" y1="789.20" x2="456.40" y2="792.60" stroke="#6fdc6f" stroke-width="1.1" />
<line x1="458.30" y1="789.20" x2="458.30" y2="792.60" stroke="#6fdc6f" stroke-width="1.1" />
<line x1="460.20" y1="789.20" x2="460.20" y2="792.60" stroke="#6fdc6f" stroke-width="1.1" />
<line x1="462.10" y1="789.20" x2="462.10" y2="792.60" stroke="#6fdc6f" stroke-width="1.1" />
<line x1="464.00" y1="789.20" x2="464.00" y2="792.60" stroke="#6fdc6f" stroke-width="1.1" />
<line x1="465.90" y1="789.20" x2="465.90" y2="792.60" stroke="#6fdc6f" stroke-width="1.1" />
<line x1="500.00" y1="789.20" x2="500.00" y2="792.60" stroke="#6fdc6f" stroke-width="1.1" />
<line x1="501.90" y1="789.20" x2="501.90" y2="792.60" stroke="#6fdc6f" stroke-width="1.1" />
<line x1="503.80" y1="789.20" x2="503.80" y2="792.60" stroke="#6fdc6f" stroke-width="1.1" />
<line x1="505.70" y1="789.20" x2="505.70" y2="792.60" stroke="#6fdc6f" stroke-width="1.1" />
<line x1="507.60" y1="789.20" x2="507.60" y2="792.60" stroke="#6fdc6f" stroke-width="1.1" />
<line x1="509.50" y1="789.20" x2="509.50" y2="792.60" stroke="#6fdc6f" stroke-width="1.1" />
<line x1="511.40" y1="789.20" x2="511.40" y2="792.60" stroke="#6fdc6f" stroke-width="1.1" />
<line x1="513.30" y1="789.20" x2="513.30" y2="792.60" stroke="#6fdc6f" stroke-width="1.1" />
<line x1="515.20" y1="789.20" x2="515.20" y2="792.60" stroke="#6fdc6f" stroke-width="1.1" />
<line x1="517.10" y1="789.20" x2="517.10" y2="792.60" stroke="#6fdc6f" stroke-width="1.1" />
<path d="M408.00,799.00 C411.15,799.00 413.60,793.00 415.00,793.00 C416.46,793.00 419.01,799.00 422.30,799.00 Z" fill="#b4b4b4"/>
<path d="M454.50,799.00 C457.25,799.00 459.38,796.40 460.60,796.40 C461.68,796.40 463.57,799.00 466.00,799.00 Z" fill="#b4b4b4"/>
<path d="M468.00,799.00 C469.21,799.00 470.16,798.00 470.70,798.00 C471.16,798.00 471.96,799.00 473.00,799.00 Z" fill="#b4b4b4"/>
<path d="M494.00,799.00 C495.89,799.00 497.36,794.00 498.20,794.00 C498.96,794.00 500.29,799.00 502.00,799.00 Z" fill="#b4b4b4"/>
<path d="M504.80,799.00 C506.96,799.00 508.64,795.80 509.60,795.80 C511.68,795.80 515.32,799.00 520.00,799.00 Z" fill="#b4b4b4"/>
<line x1="395.30" y1="805.96" x2="395.30" y2="809.16" stroke="#eb9ceb" stroke-width="0.95" />
<line x1="414.30" y1="805.96" x2="414.30" y2="809.16" stroke="#eb9ceb" stroke-width="0.95" />
<line x1="420.40" y1="805.96" x2="420.40" y2="809.16" stroke="#eb9ceb" stroke-width="0.95" />
<line x1="424.20" y1="805.96" x2="424.20" y2="809.16" stroke="#eb9ceb" stroke-width="0.95" />
<line x1="460.60" y1="805.96" x2="460.60" y2="809.16" stroke="#eb9ceb" stroke-width="0.95" />
<line x1="491.50" y1="805.96" x2="491.50" y2="809.16" stroke="#eb9ceb" stroke-width="0.95" />
<line x1="496.30" y1="805.96" x2="496.30" y2="809.16" stroke="#eb9ceb" stroke-width="0.95" />
<line x1="499.10" y1="805.96" x2="499.10" y2="809.16" stroke="#eb9ceb" stroke-width="0.95" />
<line x1="509.60" y1="805.96" x2="509.60" y2="809.16" stroke="#eb9ceb" stroke-width="0.95" />
<line x1="513.40" y1="805.96" x2="513.40" y2="809.16" stroke="#eb9ceb" stroke-width="0.95" />
<line x1="425.10" y1="809.66" x2="425.10" y2="813.06" stroke="#6fdc6f" stroke-width="1.1" />
<line x1="427.00" y1="809.66" x2="427.00" y2="813.06" stroke="#6fdc6f" stroke-width="1.1" />
<line x1="428.90" y1="809.66" x2="428.90" y2="813.06" stroke="#6fdc6f" stroke-width="1.1" />
<line x1="430.80" y1="809.66" x2="430.80" y2="813.06" stroke="#6fdc6f" stroke-width="1.1" />
<line x1="432.70" y1="809.66" x2="432.70" y2="813.06" stroke="#6fdc6f" stroke-width="1.1" />
<line x1="434.60" y1="809.66" x2="434.60" y2="813.06" stroke="#6fdc6f" stroke-width="1.1" />
<line x1="436.50" y1="809.66" x2="436.50" y2="813.06" stroke="#6fdc6f" stroke-width="1.1" />
<line x1="438.40" y1="809.66" x2="438.40" y2="813.06" stroke="#6fdc6f" stroke-width="1.1" />
<line x1="440.30" y1="809.66" x2="440.30" y2="813.06" stroke="#6fdc6f" stroke-width="1.1" />
<line x1="442.20" y1="809.66" x2="442.20" y2="813.06" stroke="#6fdc6f" stroke-width="1.1" />
<line x1="444.10" y1="809.66" x2="444.10" y2="813.06" stroke="#6fdc6f" stroke-width="1.1" />
<line x1="446.00" y1="809.66" x2="446.00" y2="813.06" stroke="#6fdc6f" stroke-width="1.1" />
<line x1="447.90" y1="809.66" x2="447.90" y2="813.06" stroke="#6fdc6f" stroke-width="1.1" />
<line x1="449.80" y1="809.66" x2="449.80" y2="813.06" stroke="#6fdc6f" stroke-width="1.1" />
<line x1="451.70" y1="809.66" x2="451.70" y2="813.06" stroke="#6fdc6f" stroke-width="1.1" />
<line x1="453.60" y1="809.66" x2="453.60" y2="813.06" stroke="#6fdc6f" stroke-width="1.1" />
<line x1="455.50" y1="809.66" x2="455.50" y2="813.06" stroke="#6fdc6f" stroke-width="1.1" />
<line x1="457.40" y1="809.66" x2="457.40" y2="813.06" stroke="#6fdc6f" stroke-width="1.1" />
<line x1="467.80" y1="809.66" x2="467.80" y2="813.06" stroke="#6fdc6f" stroke-width="1.1" />
<line x1="469.70" y1="809.66" x2="469.70" y2="813.06" stroke="#6fdc6f" stroke-width="1.1" />
<line x1="471.60" y1="809.66" x2="471.60" y2="813.06" stroke="#6fdc6f" stroke-width="1.1" />
<line x1="473.50" y1="809.66" x2="473.50" y2="813.06" stroke="#6fdc6f" stroke-width="1.1" />
<line x1="475.40" y1="809.66" x2="475.40" y2="813.06" stroke="#6fdc6f" stroke-width="1.1" />
<line x1="477.30" y1="809.66" x2="477.30" y2="813.06" stroke="#6fdc6f" stroke-width="1.1" />
<line x1="479.20" y1="809.66" x2="479.20" y2="813.06" stroke="#6fdc6f" stroke-width="1.1" />
<line x1="481.10" y1="809.66" x2="481.10" y2="813.06" stroke="#6fdc6f" stroke-width="1.1" />
<line x1="483.00" y1="809.66" x2="483.00" y2="813.06" stroke="#6fdc6f" stroke-width="1.1" />
<line x1="484.90" y1="809.66" x2="484.90" y2="813.06" stroke="#6fdc6f" stroke-width="1.1" />
<line x1="486.80" y1="809.66" x2="486.80" y2="813.06" stroke="#6fdc6f" stroke-width="1.1" />
<line x1="488.70" y1="809.66" x2="488.70" y2="813.06" stroke="#6fdc6f" stroke-width="1.1" />
<line x1="491.50" y1="809.66" x2="491.50" y2="813.06" stroke="#6fdc6f" stroke-width="1.1" />
<line x1="493.40" y1="809.66" x2="493.40" y2="813.06" stroke="#6fdc6f" stroke-width="1.1" />
<line x1="495.30" y1="809.66" x2="495.30" y2="813.06" stroke="#6fdc6f" stroke-width="1.1" />
<line x1="497.20" y1="809.66" x2="497.20" y2="813.06" stroke="#6fdc6f" stroke-width="1.1" />
<line x1="499.10" y1="809.66" x2="499.10" y2="813.06" stroke="#6fdc6f" stroke-width="1.1" />
<line x1="501.00" y1="809.66" x2="501.00" y2="813.06" stroke="#6fdc6f" stroke-width="1.1" />
<line x1="502.90" y1="809.66" x2="502.90" y2="813.06" stroke="#6fdc6f" stroke-width="1.1" />
<line x1="504.80" y1="809.66" x2="504.80" y2="813.06" stroke="#6fdc6f" stroke-width="1.1" />
<line x1="506.70" y1="809.66" x2="506.70" y2="813.06" stroke="#6fdc6f" stroke-width="1.1" />
<line x1="508.60" y1="809.66" x2="508.60" y2="813.06" stroke="#6fdc6f" stroke-width="1.1" />
<line x1="510.50" y1="809.66" x2="510.50" y2="813.06" stroke="#6fdc6f" stroke-width="1.1" />
<line x1="512.40" y1="809.66" x2="512.40" y2="813.06" stroke="#6fdc6f" stroke-width="1.1" />
<line x1="514.30" y1="809.66" x2="514.30" y2="813.06" stroke="#6fdc6f" stroke-width="1.1" />
<line x1="516.20" y1="809.66" x2="516.20" y2="813.06" stroke="#6fdc6f" stroke-width="1.1" />
<path d="M419.40,819.46 C421.11,819.46 422.44,815.66 423.20,815.66 C424.36,815.66 426.39,819.46 429.00,819.46 Z" fill="#b4b4b4"/>
<path d="M455.50,819.46 C457.80,819.46 459.58,816.96 460.60,816.96 C461.68,816.96 463.57,819.46 466.00,819.46 Z" fill="#b4b4b4"/>
<path d="M486.80,819.46 C491.48,819.46 495.12,814.76 497.20,814.76 C498.16,814.76 499.84,819.46 502.00,819.46 Z" fill="#b4b4b4"/>
<path d="M502.90,819.46 C506.09,819.46 508.58,812.86 510.00,812.86 C512.00,812.86 515.50,819.46 520.00,819.46 Z" fill="#b4b4b4"/>
<line x1="442.20" y1="826.42" x2="442.20" y2="829.62" stroke="#eb9ceb" stroke-width="0.95" />
<line x1="452.30" y1="826.42" x2="452.30" y2="829.62" stroke="#eb9ceb" stroke-width="0.95" />
<line x1="463.10" y1="826.42" x2="463.10" y2="829.62" stroke="#eb9ceb" stroke-width="0.95" />
<line x1="482.60" y1="826.42" x2="482.60" y2="829.62" stroke="#eb9ceb" stroke-width="0.95" />
<line x1="484.00" y1="826.42" x2="484.00" y2="829.62" stroke="#eb9ceb" stroke-width="0.95" />
<line x1="488.70" y1="826.42" x2="488.70" y2="829.62" stroke="#eb9ceb" stroke-width="0.95" />
<line x1="493.40" y1="826.42" x2="493.40" y2="829.62" stroke="#eb9ceb" stroke-width="0.95" />
<line x1="519.00" y1="826.42" x2="519.00" y2="829.62" stroke="#eb9ceb" stroke-width="0.95" />
<line x1="393.80" y1="830.12" x2="393.80" y2="833.52" stroke="#6fdc6f" stroke-width="1.1" />
<line x1="396.70" y1="830.12" x2="396.70" y2="833.52" stroke="#6fdc6f" stroke-width="1.1" />
<line x1="399.60" y1="830.12" x2="399.60" y2="833.52" stroke="#6fdc6f" stroke-width="1.1" />
<line x1="411.80" y1="830.12" x2="411.80" y2="833.52" stroke="#6fdc6f" stroke-width="1.1" />
<line x1="413.70" y1="830.12" x2="413.70" y2="833.52" stroke="#6fdc6f" stroke-width="1.1" />
<line x1="415.60" y1="830.12" x2="415.60" y2="833.52" stroke="#6fdc6f" stroke-width="1.1" />
<line x1="417.50" y1="830.12" x2="417.50" y2="833.52" stroke="#6fdc6f" stroke-width="1.1" />
<line x1="419.40" y1="830.12" x2="419.40" y2="833.52" stroke="#6fdc6f" stroke-width="1.1" />
<line x1="421.30" y1="830.12" x2="421.30" y2="833.52" stroke="#6fdc6f" stroke-width="1.1" />
<line x1="423.20" y1="830.12" x2="423.20" y2="833.52" stroke="#6fdc6f" stroke-width="1.1" />
<line x1="425.10" y1="830.12" x2="425.10" y2="833.52" stroke="#6fdc6f" stroke-width="1.1" />
<line x1="427.00" y1="830.12" x2="427.00" y2="833.52" stroke="#6fdc6f" stroke-width="1.1" />
<line x1="428.90" y1="830.12" x2="428.90" y2="833.52" stroke="#6fdc6f" stroke-width="1.1" />
<line x1="430.80" y1="830.12" x2="430.80" y2="833.52" stroke="#6fdc6f" stroke-width="1.1" />
<line x1="432.70" y1="830.12" x2="432.70" y2="833.52" stroke="#6fdc6f" stroke-width="1.1" />
<line x1="434.60" y1="830.12" x2="434.60" y2="833.52" stroke="#6fdc6f" stroke-width="1.1" />
<line x1="436.50" y1="830.12" x2="436.50" y2="833.52" stroke="#6fdc6f" stroke-width="1.1" />
<line x1="438.40" y1="830.12" x2="438.40" y2="833.52" stroke="#6fdc6f" stroke-width="1.1" />
<line x1="440.30" y1="830.12" x2="440.30" y2="833.52" stroke="#6fdc6f" stroke-width="1.1" />
<line x1="442.20" y1="830.12" x2="442.20" y2="833.52" stroke="#6fdc6f" stroke-width="1.1" />
<line x1="444.10" y1="830.12" x2="444.10" y2="833.52" stroke="#6fdc6f" stroke-width="1.1" />
<line x1="446.00" y1="830.12" x2="446.00" y2="833.52" stroke="#6fdc6f" stroke-width="1.1" />
<line x1="447.90" y1="830.12" x2="447.90" y2="833.52" stroke="#6fdc6f" stroke-width="1.1" />
<line x1="449.80" y1="830.12" x2="449.80" y2="833.52" stroke="#6fdc6f" stroke-width="1.1" />
<line x1="451.70" y1="830.12" x2="451.70" y2="833.52" stroke="#6fdc6f" stroke-width="1.1" />
<line x1="453.60" y1="830.12" x2="453.60" y2="833.52" stroke="#6fdc6f" stroke-width="1.1" />
<line x1="455.50" y1="830.12" x2="455.50" y2="833.52" stroke="#6fdc6f" stroke-width="1.1" />
<line x1="457.40" y1="830.12" x2="457.40" y2="833.52" stroke="#6fdc6f" stroke-width="1.1" />
<line x1="459.30" y1="830.12" x2="459.30" y2="833.52" stroke="#6fdc6f" stroke-width="1.1" />
<line x1="461.20" y1="830.12" x2="461.20" y2="833.52" stroke="#6fdc6f" stroke-width="1.1" />
<line x1="463.10" y1="830.12" x2="463.10" y2="833.52" stroke="#6fdc6f" stroke-width="1.1" />
<line x1="465.00" y1="830.12" x2="465.00" y2="833.52" stroke="#6fdc6f" stroke-width="1.1" />
<line x1="466.90" y1="830.12" x2="466.90" y2="833.52" stroke="#6fdc6f" stroke-width="1.1" />
<line x1="468.80" y1="830.12" x2="468.80" y2="833.52" stroke="#6fdc6f" stroke-width="1.1" />
<line x1="472.60" y1="830.12" x2="472.60" y2="833.52" stroke="#6fdc6f" stroke-width="1.1" />
<line x1="474.50" y1="830.12" x2="474.50" y2="833.52" stroke="#6fdc6f" stroke-width="1.1" />
<line x1="476.40" y1="830.12" x2="476.40" y2="833.52" stroke="#6fdc6f" stroke-width="1.1" />
<line x1="478.30" y1="830.12" x2="478.30" y2="833.52" stroke="#6fdc6f" stroke-width="1.1" />
<line x1="480.20" y1="830.12" x2="480.20" y2="833.52" stroke="#6fdc6f" stroke-width="1.1" />
<line x1="482.10" y1="830.12" x2="482.10" y2="833.52" stroke="#6fdc6f" stroke-width="1.1" />
<line x1="484.00" y1="830.12" x2="484.00" y2="833.52" stroke="#6fdc6f" stroke-width="1.1" />
<line x1="485.90" y1="830.12" x2="485.90" y2="833.52" stroke="#6fdc6f" stroke-width="1.1" />
<line x1="487.80" y1="830.12" x2="487.80" y2="833.52" stroke="#6fdc6f" stroke-width="1.1" />
<line x1="489.70" y1="830.12" x2="489.70" y2="833.52" stroke="#6fdc6f" stroke-width="1.1" />
<line x1="491.60" y1="830.12" x2="491.60" y2="833.52" stroke="#6fdc6f" stroke-width="1.1" />
<line x1="493.50" y1="830.12" x2="493.50" y2="833.52" stroke="#6fdc6f" stroke-width="1.1" />
<line x1="495.40" y1="830.12" x2="495.40" y2="833.52" stroke="#6fdc6f" stroke-width="1.1" />
<line x1="497.30" y1="830.12" x2="497.30" y2="833.52" stroke="#6fdc6f" stroke-width="1.1" />
<line x1="499.20" y1="830.12" x2="499.20" y2="833.52" stroke="#6fdc6f" stroke-width="1.1" />
<line x1="501.10" y1="830.12" x2="501.10" y2="833.52" stroke="#6fdc6f" stroke-width="1.1" />
<line x1="503.00" y1="830.12" x2="503.00" y2="833.52" stroke="#6fdc6f" stroke-width="1.1" />
<line x1="504.90" y1="830.12" x2="504.90" y2="833.52" stroke="#6fdc6f" stroke-width="1.1" />
<line x1="506.80" y1="830.12" x2="506.80" y2="833.52" stroke="#6fdc6f" stroke-width="1.1" />
<line x1="508.70" y1="830.12" x2="508.70" y2="833.52" stroke="#6fdc6f" stroke-width="1.1" />
<line x1="510.60" y1="830.12" x2="510.60" y2="833.52" stroke="#6fdc6f" stroke-width="1.1" />
<line x1="512.50" y1="830.12" x2="512.50" y2="833.52" stroke="#6fdc6f" stroke-width="1.1" />
<line x1="514.40" y1="830.12" x2="514.40" y2="833.52" stroke="#6fdc6f" stroke-width="1.1" />
<line x1="516.30" y1="830.12" x2="516.30" y2="833.52" stroke="#6fdc6f" stroke-width="1.1" />
<line x1="518.20" y1="830.12" x2="518.20" y2="833.52" stroke="#6fdc6f" stroke-width="1.1" />
<path d="M437.00,839.92 C438.89,839.92 440.36,838.12 441.20,838.12 C442.56,838.12 444.94,839.92 448.00,839.92 Z" fill="#b4b4b4"/>
<path d="M446.00,839.92 C448.56,839.92 450.56,838.12 451.70,838.12 C452.96,838.12 455.17,839.92 458.00,839.92 Z" fill="#b4b4b4"/>
<path d="M458.00,839.92 C460.30,839.92 462.08,838.12 463.10,838.12 C464.08,838.12 465.80,839.92 468.00,839.92 Z" fill="#b4b4b4"/>
<path d="M476.00,839.92 C478.70,839.92 480.80,836.42 482.00,836.42 C485.20,836.42 490.80,839.92 498.00,839.92 Z" fill="#b4b4b4"/>
<path d="M514.00,839.92 C516.02,839.92 517.60,838.42 518.50,838.42 C519.20,838.42 520.42,839.92 522.00,839.92 Z" fill="#b4b4b4"/>
</g>
<line x1="393.20" y1="679.90" x2="393.20" y2="839.60" stroke="#262626" stroke-width="1.3" />
<line x1="393.20" y1="688.70" x2="396.20" y2="688.70" stroke="#262626" stroke-width="1" />
<text x="388.00" y="693.10" font-size="12.5" fill="#333" text-anchor="end">1</text>
<line x1="393.20" y1="709.16" x2="396.20" y2="709.16" stroke="#262626" stroke-width="1" />
<text x="388.00" y="713.56" font-size="12.5" fill="#333" text-anchor="end">2</text>
<line x1="393.20" y1="729.62" x2="396.20" y2="729.62" stroke="#262626" stroke-width="1" />
<text x="388.00" y="734.02" font-size="12.5" fill="#333" text-anchor="end">3</text>
<line x1="393.20" y1="750.08" x2="396.20" y2="750.08" stroke="#262626" stroke-width="1" />
<text x="388.00" y="754.48" font-size="12.5" fill="#333" text-anchor="end">4</text>
<line x1="393.20" y1="770.54" x2="396.20" y2="770.54" stroke="#262626" stroke-width="1" />
<text x="388.00" y="774.94" font-size="12.5" fill="#333" text-anchor="end">5</text>
<line x1="393.20" y1="791.00" x2="396.20" y2="791.00" stroke="#262626" stroke-width="1" />
<text x="388.00" y="795.40" font-size="12.5" fill="#333" text-anchor="end">6</text>
<line x1="393.20" y1="811.46" x2="396.20" y2="811.46" stroke="#262626" stroke-width="1" />
<text x="388.00" y="815.86" font-size="12.5" fill="#333" text-anchor="end">7</text>
<line x1="393.20" y1="831.92" x2="396.20" y2="831.92" stroke="#262626" stroke-width="1" />
<text x="388.00" y="836.32" font-size="12.5" fill="#333" text-anchor="end">8</text>
<text x="374.90" y="760.20" font-size="14.8" fill="#262626" text-anchor="middle" transform="rotate(-90 374.90 760.20)">Trial</text>
<text x="518.50" y="675.10" font-size="14" fill="#000" font-weight="bold" text-anchor="middle" textLength="215.60" lengthAdjust="spacingAndGlyphs">High reward expectation trials</text>
<text x="630.70" y="687.80" font-size="12" fill="#e57ee5" font-weight="bold" text-anchor="end" textLength="25.60" lengthAdjust="spacingAndGlyphs">vStr</text>
<text x="630.20" y="697.00" font-size="12" fill="#7fe57f" font-weight="bold" text-anchor="end" textLength="25.50" lengthAdjust="spacingAndGlyphs">CA1</text>
<text x="637.50" y="705.50" font-size="12" fill="#a0a0a0" text-anchor="end" textLength="55.00" lengthAdjust="spacingAndGlyphs">coactivity</text>
<line x1="393.20" y1="844.50" x2="393.20" y2="872.70" stroke="#262626" stroke-width="1.3" />
<line x1="392.60" y1="872.70" x2="643.70" y2="872.70" stroke="#262626" stroke-width="1.3" />
<line x1="393.20" y1="847.40" x2="396.20" y2="847.40" stroke="#262626" stroke-width="1" />
<line x1="518.50" y1="872.70" x2="518.50" y2="870.20" stroke="#262626" stroke-width="1" />
<line x1="643.70" y1="872.70" x2="643.70" y2="870.20" stroke="#262626" stroke-width="1" />
<text x="389.00" y="852.30" font-size="12" fill="#333" text-anchor="end">80</text>
<text x="389.00" y="877.00" font-size="12" fill="#333" text-anchor="end">0</text>
<text x="394.20" y="890.50" font-size="12" fill="#333" text-anchor="middle">-5</text>
<text x="518.50" y="890.50" font-size="12" fill="#333" text-anchor="middle">0</text>
<text x="643.70" y="890.50" font-size="12" fill="#333" text-anchor="middle">5</text>
<clipPath id="gcoc"><rect x="390" y="840" width="260" height="34.1"/></clipPath>
<g clip-path="url(#gcoc)">
<path d="M393.20,861.60 C393.53,862.07 394.18,862.55 395.20,864.40 C396.22,866.25 397.68,872.02 399.30,872.70 C400.92,873.38 403.27,868.73 404.90,868.50 C406.53,868.27 407.35,871.90 409.10,871.30 C410.85,870.70 413.70,865.37 415.40,864.90 C417.10,864.43 418.05,868.22 419.30,868.50 C420.55,868.78 421.60,866.27 422.90,866.60 C424.20,866.93 425.72,869.85 427.10,870.50 C428.48,871.15 429.58,870.13 431.20,870.50 C432.82,870.87 435.17,872.70 436.80,872.70 C438.43,872.70 439.38,870.87 441.00,870.50 C442.62,870.13 444.65,871.75 446.50,870.50 C448.35,869.25 450.48,864.72 452.10,863.00 C453.72,861.28 454.82,860.43 456.20,860.20 C457.58,859.97 458.55,860.22 460.40,861.60 C462.25,862.98 465.00,867.12 467.30,868.50 C469.60,869.88 472.58,869.90 474.20,869.90 C475.82,869.90 475.70,870.58 477.00,868.50 C478.30,866.42 480.38,857.85 482.00,857.40 C483.62,856.95 485.22,865.57 486.70,865.80 C488.18,866.03 489.18,862.13 490.90,858.80 C492.62,855.47 495.38,846.25 497.00,845.80 C498.62,845.35 499.35,852.10 500.60,856.10 C501.85,860.10 502.72,869.17 504.50,869.80 C506.28,870.43 509.42,861.03 511.30,859.90 C513.18,858.77 514.60,862.07 515.80,863.00 C517.00,863.93 517.35,864.13 518.50,865.50 C519.65,866.87 520.80,869.95 522.70,871.20 C524.60,872.45 509.73,872.70 529.90,873.00 C550.07,873.30 624.73,873.00 643.70,873.00" fill="none" stroke="#000" stroke-width="2.2" stroke-linejoin="round" stroke-linecap="round" />
</g>
<text x="331.90" y="859.80" font-size="14.5" fill="#262626" text-anchor="middle" textLength="35.80" lengthAdjust="spacingAndGlyphs" transform="rotate(-90 331.90 859.80)">Mean</text>
<text x="349.20" y="859.80" font-size="14.3" fill="#262626" text-anchor="middle" textLength="61.20" lengthAdjust="spacingAndGlyphs" transform="rotate(-90 349.20 859.80)">coactivity</text>
<text x="367.40" y="859.00" font-size="15" fill="#262626" text-anchor="middle" textLength="57.00" lengthAdjust="spacingAndGlyphs" transform="rotate(-90 367.40 859.00)">(z-score)</text>
<text x="518.70" y="908.80" font-size="13" fill="#262626" text-anchor="middle" textLength="112.20" lengthAdjust="spacingAndGlyphs">Time from arrival</text>
<text x="518.00" y="925.90" font-size="13" fill="#262626" text-anchor="middle" textLength="140.30" lengthAdjust="spacingAndGlyphs">at reward location (s)</text>
</svg></body></html>
